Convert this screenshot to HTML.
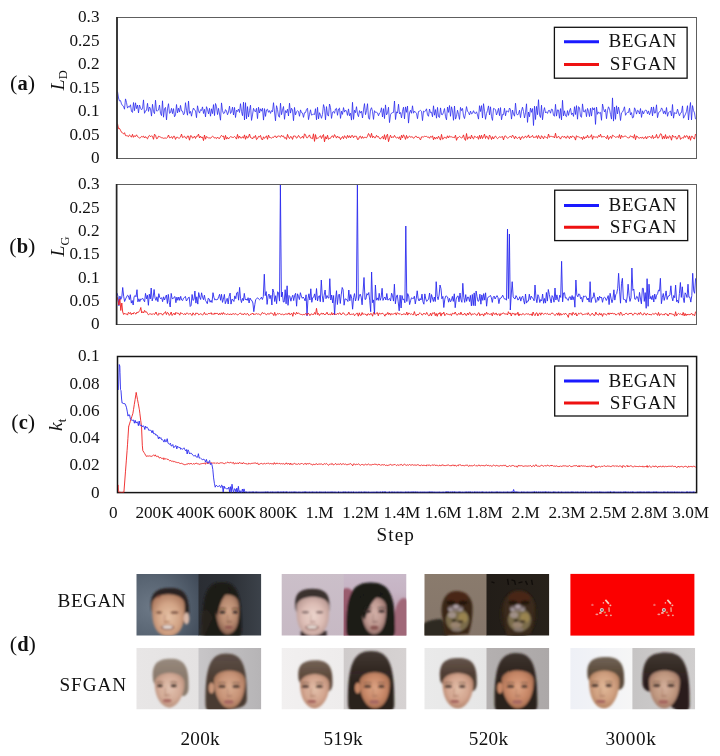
<!DOCTYPE html>
<html><head><meta charset="utf-8"><title>Figure</title>
<style>html,body{margin:0;padding:0;background:#fff;width:720px;height:756px;overflow:hidden}svg{display:block;will-change:transform}</style>
</head><body>
<svg width="720" height="756" viewBox="0 0 720 756">
<defs>
<filter id="bl1" x="-20%" y="-20%" width="140%" height="140%"><feGaussianBlur stdDeviation="1.2"/></filter>
<filter id="bl05" x="-50%" y="-50%" width="200%" height="200%"><feGaussianBlur stdDeviation="0.45"/></filter>
<filter id="bl07" x="-50%" y="-50%" width="200%" height="200%"><feGaussianBlur stdDeviation="0.85"/></filter>
<filter id="bl2" x="-20%" y="-20%" width="140%" height="140%"><feGaussianBlur stdDeviation="2"/></filter>
<clipPath id="ca"><rect x="117" y="17" width="580" height="142"/></clipPath>
<clipPath id="cb"><rect x="116" y="184" width="581" height="141"/></clipPath>
<clipPath id="cc"><rect x="118.2" y="357.2" width="577.7" height="135.6"/></clipPath>
</defs>
<style>
text{font-family:'Liberation Serif',serif;fill:#111}
.tk{font-size:17.2px}
.lg{font-size:19.2px}
.pl{font-size:22px}
.ax{font-size:19.5px}
.it{font-style:italic}
</style>
<rect width="720" height="756" fill="#fff"/>
<!-- chart a -->
<text x="99.5" y="163.1" text-anchor="end" class="tk">0</text><text x="99.5" y="139.6" text-anchor="end" class="tk">0.05</text><text x="99.5" y="116.2" text-anchor="end" class="tk">0.1</text><text x="99.5" y="92.7" text-anchor="end" class="tk">0.15</text><text x="99.5" y="69.2" text-anchor="end" class="tk">0.2</text><text x="99.5" y="45.8" text-anchor="end" class="tk">0.25</text><text x="99.5" y="22.3" text-anchor="end" class="tk">0.3</text>
<g clip-path="url(#ca)">
<polyline points="117.5,91.5 118.5,98.0 119.5,101.0 120.5,100.6 121.5,103.9 122.5,105.6 123.5,106.3 124.5,109.2 125.5,98.9 126.5,102.5 127.5,108.1 128.5,106.4 129.5,107.1 130.5,104.8 131.5,111.5 132.5,112.4 133.5,102.5 134.5,110.7 135.5,102.8 136.5,108.6 137.5,105.0 138.5,112.9 139.5,105.0 140.5,107.9 141.5,109.8 142.5,108.6 143.5,99.9 144.5,113.3 145.5,110.8 146.5,110.4 147.5,103.3 148.5,111.4 149.5,107.0 150.5,108.8 151.5,116.1 152.5,104.3 153.5,111.7 154.5,113.7 155.5,100.2 156.5,110.9 157.5,110.8 158.5,110.1 159.5,105.0 160.5,113.2 161.5,115.6 162.5,100.8 163.5,117.2 164.5,108.8 165.5,107.4 166.5,119.9 167.5,108.9 168.5,103.7 169.5,113.3 170.5,112.6 171.5,108.3 172.5,113.6 173.5,108.6 174.5,116.8 175.5,114.9 176.5,104.5 177.5,112.9 178.5,108.2 179.5,112.1 180.5,105.4 181.5,110.9 182.5,111.1 183.5,114.8 184.5,113.3 185.5,102.7 186.5,110.4 187.5,115.2 188.5,101.1 189.5,113.4 190.5,111.4 191.5,116.2 192.5,110.8 193.5,108.0 194.5,110.1 195.5,110.7 196.5,117.7 197.5,105.8 198.5,110.7 199.5,113.1 200.5,109.7 201.5,110.5 202.5,106.9 203.5,113.5 204.5,109.3 205.5,116.9 206.5,106.7 207.5,109.5 208.5,113.9 209.5,108.3 210.5,116.2 211.5,108.8 212.5,113.6 213.5,104.6 214.5,115.6 215.5,103.5 216.5,106.7 217.5,114.6 218.5,108.3 219.5,114.0 220.5,120.2 221.5,102.9 222.5,110.7 223.5,113.6 224.5,113.0 225.5,109.6 226.5,111.0 227.5,114.8 228.5,112.0 229.5,106.1 230.5,113.5 231.5,111.8 232.5,107.1 233.5,115.0 234.5,107.4 235.5,117.5 236.5,110.2 237.5,111.5 238.5,109.0 239.5,112.5 240.5,103.7 241.5,111.5 242.5,115.7 243.5,102.2 244.5,120.0 245.5,102.7 246.5,118.8 247.5,106.6 248.5,116.9 249.5,110.6 250.5,105.2 251.5,120.4 252.5,114.9 253.5,108.3 254.5,110.9 255.5,111.9 256.5,108.3 257.5,118.6 258.5,107.2 259.5,113.0 260.5,108.8 261.5,111.2 262.5,108.2 263.5,120.1 264.5,108.6 265.5,116.4 266.5,109.9 267.5,109.2 268.5,112.3 269.5,110.6 270.5,113.4 271.5,110.6 272.5,111.8 273.5,102.7 274.5,112.0 275.5,120.8 276.5,105.7 277.5,109.4 278.5,116.0 279.5,117.3 280.5,103.2 281.5,114.7 282.5,110.2 283.5,106.5 284.5,119.3 285.5,110.6 286.5,112.7 287.5,109.2 288.5,116.0 289.5,103.2 290.5,113.1 291.5,108.2 292.5,110.0 293.5,120.7 294.5,107.4 295.5,114.9 296.5,111.7 297.5,110.8 298.5,111.5 299.5,116.3 300.5,109.9 301.5,112.7 302.5,113.0 303.5,117.4 304.5,112.7 305.5,112.6 306.5,109.4 307.5,108.2 308.5,119.6 309.5,114.4 310.5,109.8 311.5,115.1 312.5,114.6 313.5,114.2 314.5,114.5 315.5,108.7 316.5,119.8 317.5,107.3 318.5,118.9 319.5,112.7 320.5,115.1 321.5,118.3 322.5,114.4 323.5,104.6 324.5,108.3 325.5,119.8 326.5,106.6 327.5,114.8 328.5,116.1 329.5,104.0 330.5,107.7 331.5,118.4 332.5,112.2 333.5,111.5 334.5,113.3 335.5,109.0 336.5,108.3 337.5,115.3 338.5,109.0 339.5,108.1 340.5,118.4 341.5,111.2 342.5,114.4 343.5,107.6 344.5,112.1 345.5,110.0 346.5,111.2 347.5,115.4 348.5,108.9 349.5,115.8 350.5,113.2 351.5,120.1 352.5,102.3 353.5,119.4 354.5,110.2 355.5,112.7 356.5,106.7 357.5,114.0 358.5,116.7 359.5,110.6 360.5,113.1 361.5,111.2 362.5,118.0 363.5,109.9 364.5,103.6 365.5,114.7 366.5,110.6 367.5,103.7 368.5,117.8 369.5,119.3 370.5,109.8 371.5,107.7 372.5,111.4 373.5,119.4 374.5,110.7 375.5,112.4 376.5,112.3 377.5,112.9 378.5,115.8 379.5,113.0 380.5,112.2 381.5,107.8 382.5,117.0 383.5,108.6 384.5,118.6 385.5,104.9 386.5,114.9 387.5,112.9 388.5,107.2 389.5,122.6 390.5,114.7 391.5,113.1 392.5,112.6 393.5,112.4 394.5,101.0 395.5,119.5 396.5,111.8 397.5,113.1 398.5,104.2 399.5,113.9 400.5,112.5 401.5,117.9 402.5,111.3 403.5,107.2 404.5,118.9 405.5,106.9 406.5,112.3 407.5,106.0 408.5,123.1 409.5,113.0 410.5,110.2 411.5,113.3 412.5,105.8 413.5,113.2 414.5,111.1 415.5,112.3 416.5,113.3 417.5,118.7 418.5,111.5 419.5,111.1 420.5,110.4 421.5,111.3 422.5,120.6 423.5,111.1 424.5,111.7 425.5,111.0 426.5,108.8 427.5,114.8 428.5,116.3 429.5,109.0 430.5,112.6 431.5,112.2 432.5,116.8 433.5,105.8 434.5,115.2 435.5,109.6 436.5,118.2 437.5,107.4 438.5,116.7 439.5,117.5 440.5,107.9 441.5,114.5 442.5,114.7 443.5,112.2 444.5,108.5 445.5,116.7 446.5,119.8 447.5,107.0 448.5,112.4 449.5,105.5 450.5,116.3 451.5,106.8 452.5,110.9 453.5,120.3 454.5,106.0 455.5,119.1 456.5,116.4 457.5,110.2 458.5,114.3 459.5,119.4 460.5,107.4 461.5,110.6 462.5,108.4 463.5,115.8 464.5,118.6 465.5,113.2 466.5,106.6 467.5,111.2 468.5,112.5 469.5,114.9 470.5,111.1 471.5,113.9 472.5,113.3 473.5,110.7 474.5,113.1 475.5,113.5 476.5,111.8 477.5,114.9 478.5,119.1 479.5,105.7 480.5,111.5 481.5,105.6 482.5,118.0 483.5,103.7 484.5,111.2 485.5,119.3 486.5,113.6 487.5,110.4 488.5,105.9 489.5,114.9 490.5,106.8 491.5,116.7 492.5,120.4 493.5,108.4 494.5,108.9 495.5,109.6 496.5,115.0 497.5,112.0 498.5,108.3 499.5,115.7 500.5,107.6 501.5,119.8 502.5,114.4 503.5,114.7 504.5,108.2 505.5,115.8 506.5,110.9 507.5,111.3 508.5,112.1 509.5,108.0 510.5,109.6 511.5,119.1 512.5,110.0 513.5,113.9 514.5,116.2 515.5,103.2 516.5,113.3 517.5,115.1 518.5,113.8 519.5,110.2 520.5,117.7 521.5,111.1 522.5,107.2 523.5,111.5 524.5,118.0 525.5,112.7 526.5,103.8 527.5,122.4 528.5,112.0 529.5,116.8 530.5,108.0 531.5,112.3 532.5,108.6 533.5,125.5 534.5,106.2 535.5,119.5 536.5,106.4 537.5,114.7 538.5,99.7 539.5,114.8 540.5,117.5 541.5,105.2 542.5,119.8 543.5,111.6 544.5,107.6 545.5,112.9 546.5,111.8 547.5,113.4 548.5,110.5 549.5,110.4 550.5,113.2 551.5,109.1 552.5,109.6 553.5,115.3 554.5,116.3 555.5,104.3 556.5,116.1 557.5,109.9 558.5,110.1 559.5,118.3 560.5,108.6 561.5,119.9 562.5,100.3 563.5,115.9 564.5,110.8 565.5,115.8 566.5,116.7 567.5,110.6 568.5,115.4 569.5,111.0 570.5,108.3 571.5,114.6 572.5,113.0 573.5,116.4 574.5,106.7 575.5,114.5 576.5,105.6 577.5,119.2 578.5,106.7 579.5,107.6 580.5,116.4 581.5,117.3 582.5,103.9 583.5,111.6 584.5,112.0 585.5,109.6 586.5,116.7 587.5,108.4 588.5,111.5 589.5,116.6 590.5,108.2 591.5,116.1 592.5,107.6 593.5,109.8 594.5,107.8 595.5,124.4 596.5,107.1 597.5,114.3 598.5,111.9 599.5,113.3 600.5,112.4 601.5,120.3 602.5,104.0 603.5,108.6 604.5,112.0 605.5,109.4 606.5,118.7 607.5,110.5 608.5,106.8 609.5,109.1 610.5,114.3 611.5,119.1 612.5,97.9 613.5,121.1 614.5,107.0 615.5,119.3 616.5,105.8 617.5,113.9 618.5,107.1 619.5,112.0 620.5,120.5 621.5,112.8 622.5,112.1 623.5,109.9 624.5,106.8 625.5,115.3 626.5,113.4 627.5,112.3 628.5,112.4 629.5,108.2 630.5,114.9 631.5,112.6 632.5,118.0 633.5,117.3 634.5,107.8 635.5,109.8 636.5,114.1 637.5,110.3 638.5,110.9 639.5,114.0 640.5,108.5 641.5,117.4 642.5,110.8 643.5,113.9 644.5,111.3 645.5,110.0 646.5,110.4 647.5,113.8 648.5,110.9 649.5,114.8 650.5,112.1 651.5,107.0 652.5,115.9 653.5,106.9 654.5,113.1 655.5,112.8 656.5,104.8 657.5,117.7 658.5,113.0 659.5,111.6 660.5,111.2 661.5,107.9 662.5,109.4 663.5,113.7 664.5,110.9 665.5,114.2 666.5,107.5 667.5,116.3 668.5,112.7 669.5,111.7 670.5,111.1 671.5,115.9 672.5,104.5 673.5,118.2 674.5,112.6 675.5,113.2 676.5,113.5 677.5,109.1 678.5,113.0 679.5,115.8 680.5,112.9 681.5,112.5 682.5,105.9 683.5,118.2 684.5,116.2 685.5,114.1 686.5,111.3 687.5,105.7 688.5,120.0 689.5,109.9 690.5,102.5 691.5,119.9 692.5,105.6 693.5,110.6 694.5,112.9 695.5,119.2" fill="none" stroke="#2a2aee" stroke-width="0.8" stroke-linejoin="round"/>
<polyline points="117.5,123.7 118.5,128.6 119.5,128.4 120.5,130.3 121.5,132.1 122.5,133.1 123.5,133.9 124.5,132.7 125.5,135.6 126.5,135.7 127.5,135.9 128.5,136.6 129.5,134.9 130.5,135.8 131.5,137.2 132.5,134.3 133.5,137.3 134.5,135.8 135.5,136.5 136.5,134.8 137.5,136.6 138.5,137.3 139.5,138.0 140.5,137.7 141.5,136.4 142.5,136.8 143.5,136.1 144.5,138.0 145.5,136.6 146.5,138.0 147.5,138.9 148.5,136.3 149.5,135.4 150.5,136.8 151.5,135.8 152.5,136.4 153.5,139.3 154.5,134.2 155.5,135.2 156.5,138.7 157.5,138.4 158.5,136.2 159.5,136.6 160.5,137.1 161.5,137.7 162.5,137.8 163.5,138.3 164.5,138.1 165.5,138.0 166.5,138.3 167.5,137.3 168.5,135.0 169.5,137.8 170.5,137.6 171.5,136.6 172.5,138.5 173.5,136.3 174.5,136.3 175.5,139.4 176.5,137.3 177.5,137.1 178.5,138.2 179.5,138.0 180.5,137.1 181.5,134.1 182.5,137.6 183.5,137.0 184.5,136.2 185.5,137.9 186.5,138.5 187.5,136.0 188.5,136.1 189.5,140.2 190.5,135.7 191.5,135.9 192.5,138.1 193.5,137.6 194.5,136.1 195.5,138.5 196.5,136.2 197.5,136.3 198.5,134.1 199.5,138.0 200.5,136.1 201.5,137.9 202.5,136.9 203.5,140.6 204.5,135.0 205.5,139.2 206.5,136.5 207.5,137.1 208.5,138.1 209.5,137.9 210.5,138.3 211.5,137.0 212.5,136.3 213.5,136.8 214.5,138.1 215.5,137.7 216.5,138.6 217.5,137.0 218.5,138.3 219.5,138.5 220.5,136.7 221.5,135.3 222.5,136.5 223.5,136.0 224.5,139.8 225.5,135.4 226.5,139.1 227.5,137.3 228.5,139.0 229.5,137.6 230.5,136.6 231.5,137.0 232.5,137.4 233.5,137.4 234.5,136.5 235.5,137.4 236.5,139.1 237.5,134.4 238.5,138.3 239.5,136.0 240.5,137.9 241.5,138.1 242.5,136.7 243.5,138.2 244.5,134.9 245.5,139.3 246.5,135.9 247.5,138.2 248.5,137.1 249.5,134.0 250.5,137.5 251.5,137.8 252.5,139.0 253.5,136.8 254.5,137.4 255.5,135.4 256.5,139.6 257.5,138.7 258.5,136.4 259.5,136.9 260.5,135.4 261.5,139.0 262.5,140.0 263.5,136.8 264.5,138.4 265.5,137.2 266.5,135.8 267.5,139.3 268.5,135.1 269.5,137.5 270.5,137.6 271.5,138.1 272.5,137.3 273.5,137.5 274.5,136.1 275.5,136.0 276.5,137.9 277.5,136.3 278.5,136.0 279.5,136.3 280.5,137.2 281.5,135.2 282.5,136.5 283.5,135.9 284.5,138.2 285.5,137.6 286.5,139.4 287.5,134.4 288.5,137.1 289.5,138.6 290.5,136.5 291.5,136.9 292.5,139.4 293.5,136.0 294.5,136.0 295.5,136.2 296.5,138.2 297.5,137.4 298.5,135.4 299.5,136.7 300.5,138.3 301.5,137.6 302.5,136.2 303.5,138.3 304.5,133.8 305.5,134.8 306.5,137.7 307.5,137.8 308.5,136.3 309.5,134.9 310.5,137.9 311.5,138.2 312.5,138.7 313.5,133.8 314.5,141.4 315.5,134.6 316.5,138.9 317.5,138.2 318.5,137.8 319.5,136.9 320.5,135.7 321.5,138.5 322.5,136.0 323.5,134.5 324.5,141.8 325.5,136.7 326.5,139.0 327.5,135.2 328.5,139.4 329.5,138.4 330.5,138.3 331.5,136.4 332.5,135.8 333.5,137.6 334.5,134.6 335.5,136.2 336.5,138.1 337.5,136.0 338.5,137.5 339.5,137.1 340.5,139.6 341.5,137.8 342.5,136.5 343.5,138.7 344.5,135.7 345.5,137.2 346.5,138.5 347.5,135.3 348.5,137.5 349.5,135.7 350.5,138.0 351.5,135.7 352.5,135.5 353.5,137.8 354.5,136.0 355.5,136.3 356.5,136.3 357.5,139.5 358.5,139.3 359.5,136.6 360.5,136.1 361.5,138.4 362.5,136.5 363.5,138.3 364.5,137.2 365.5,137.4 366.5,137.8 367.5,136.2 368.5,133.5 369.5,135.3 370.5,137.5 371.5,133.3 372.5,137.7 373.5,136.1 374.5,137.8 375.5,137.7 376.5,135.3 377.5,136.9 378.5,136.5 379.5,138.5 380.5,138.9 381.5,137.4 382.5,136.4 383.5,139.1 384.5,134.7 385.5,139.7 386.5,135.7 387.5,134.2 388.5,141.7 389.5,137.8 390.5,135.2 391.5,137.9 392.5,136.9 393.5,137.4 394.5,135.4 395.5,137.1 396.5,138.1 397.5,137.2 398.5,138.5 399.5,136.7 400.5,140.0 401.5,135.2 402.5,137.9 403.5,134.8 404.5,136.6 405.5,139.4 406.5,135.4 407.5,138.3 408.5,136.9 409.5,136.0 410.5,137.3 411.5,136.8 412.5,136.9 413.5,138.3 414.5,137.6 415.5,136.2 416.5,136.4 417.5,138.0 418.5,136.9 419.5,138.5 420.5,139.9 421.5,136.9 422.5,136.8 423.5,137.0 424.5,136.3 425.5,136.5 426.5,136.4 427.5,137.2 428.5,136.9 429.5,138.3 430.5,136.4 431.5,137.2 432.5,135.8 433.5,139.8 434.5,137.0 435.5,139.1 436.5,137.3 437.5,138.6 438.5,136.2 439.5,138.2 440.5,140.1 441.5,134.4 442.5,139.2 443.5,138.7 444.5,136.9 445.5,137.9 446.5,138.4 447.5,135.8 448.5,138.0 449.5,135.9 450.5,136.8 451.5,136.8 452.5,137.3 453.5,137.4 454.5,137.7 455.5,135.2 456.5,140.3 457.5,137.6 458.5,137.5 459.5,136.4 460.5,137.3 461.5,137.9 462.5,137.4 463.5,134.9 464.5,138.9 465.5,140.4 466.5,133.5 467.5,139.3 468.5,137.2 469.5,136.9 470.5,138.9 471.5,135.1 472.5,138.0 473.5,138.9 474.5,136.2 475.5,136.8 476.5,137.5 477.5,136.6 478.5,139.3 479.5,135.3 480.5,138.7 481.5,135.2 482.5,138.6 483.5,136.7 484.5,134.1 485.5,138.5 486.5,135.9 487.5,137.2 488.5,139.3 489.5,135.1 490.5,136.4 491.5,139.5 492.5,136.6 493.5,139.0 494.5,136.8 495.5,136.0 496.5,137.6 497.5,138.7 498.5,137.8 499.5,136.7 500.5,137.3 501.5,137.0 502.5,136.5 503.5,139.9 504.5,136.3 505.5,135.8 506.5,137.2 507.5,138.3 508.5,137.6 509.5,136.7 510.5,136.4 511.5,137.6 512.5,135.1 513.5,136.4 514.5,138.8 515.5,136.2 516.5,137.9 517.5,138.5 518.5,137.4 519.5,136.9 520.5,139.8 521.5,137.0 522.5,136.4 523.5,138.3 524.5,137.3 525.5,135.9 526.5,137.7 527.5,137.0 528.5,134.9 529.5,138.0 530.5,136.9 531.5,136.8 532.5,135.4 533.5,137.6 534.5,137.3 535.5,137.3 536.5,135.7 537.5,138.5 538.5,135.4 539.5,137.5 540.5,138.9 541.5,135.7 542.5,136.9 543.5,138.8 544.5,136.2 545.5,137.0 546.5,137.6 547.5,138.4 548.5,134.0 549.5,137.3 550.5,136.4 551.5,136.4 552.5,136.7 553.5,136.6 554.5,138.0 555.5,133.2 556.5,137.8 557.5,137.6 558.5,136.1 559.5,137.7 560.5,139.1 561.5,136.8 562.5,136.3 563.5,137.4 564.5,136.1 565.5,138.0 566.5,138.1 567.5,135.8 568.5,137.3 569.5,138.7 570.5,136.0 571.5,137.7 572.5,135.9 573.5,136.7 574.5,137.0 575.5,140.1 576.5,135.7 577.5,136.8 578.5,136.8 579.5,137.3 580.5,138.1 581.5,137.1 582.5,139.6 583.5,136.5 584.5,138.8 585.5,136.8 586.5,137.8 587.5,135.2 588.5,137.7 589.5,137.2 590.5,136.9 591.5,134.7 592.5,139.3 593.5,136.3 594.5,136.9 595.5,137.1 596.5,137.0 597.5,137.8 598.5,135.5 599.5,136.7 600.5,134.2 601.5,137.2 602.5,136.7 603.5,136.7 604.5,136.5 605.5,137.5 606.5,138.6 607.5,135.4 608.5,139.5 609.5,137.5 610.5,136.3 611.5,138.4 612.5,135.1 613.5,135.8 614.5,136.5 615.5,137.3 616.5,137.0 617.5,136.7 618.5,137.6 619.5,134.6 620.5,138.8 621.5,135.3 622.5,137.1 623.5,137.0 624.5,136.0 625.5,136.1 626.5,136.7 627.5,137.7 628.5,137.9 629.5,137.6 630.5,135.7 631.5,136.7 632.5,136.5 633.5,138.2 634.5,134.5 635.5,139.7 636.5,136.0 637.5,136.5 638.5,138.0 639.5,138.3 640.5,137.1 641.5,138.3 642.5,136.9 643.5,138.6 644.5,138.1 645.5,136.5 646.5,139.0 647.5,136.7 648.5,137.2 649.5,136.1 650.5,137.3 651.5,138.3 652.5,135.3 653.5,138.6 654.5,137.3 655.5,137.4 656.5,134.4 657.5,138.1 658.5,138.0 659.5,136.0 660.5,133.7 661.5,134.3 662.5,139.1 663.5,136.1 664.5,138.6 665.5,134.6 666.5,138.9 667.5,136.6 668.5,138.3 669.5,135.7 670.5,136.9 671.5,140.2 672.5,135.1 673.5,136.8 674.5,137.2 675.5,136.1 676.5,139.1 677.5,138.7 678.5,135.5 679.5,135.5 680.5,139.4 681.5,138.0 682.5,137.7 683.5,138.2 684.5,135.6 685.5,137.4 686.5,135.6 687.5,136.2 688.5,139.1 689.5,135.9 690.5,140.3 691.5,136.2 692.5,136.4 693.5,138.5 694.5,139.0 695.5,134.0" fill="none" stroke="#ee2020" stroke-width="0.9" stroke-linejoin="round"/>
</g>
<rect x="117" y="17.5" width="579.5" height="141.0" fill="none" stroke="#5e5e5e" stroke-width="1"/><path d="M117,17.0V159.0" fill="none" stroke="#262626" stroke-width="1.7"/>
<rect x="554.4" y="27.3" width="132.70000000000005" height="50.900000000000006" fill="#fff" stroke="#111" stroke-width="1.3"/><line x1="564" y1="41.8" x2="599" y2="41.8" stroke="#1a1aff" stroke-width="3"/><line x1="564" y1="64.4" x2="599" y2="64.4" stroke="#ee1111" stroke-width="3"/><text x="608.4" y="47.2" class="lg" letter-spacing="0.45">BEGAN</text><text x="609.8" y="70.0" class="lg" letter-spacing="0.9">SFGAN</text>
<text x="10.1" y="89.6" class="pl">(<tspan font-weight="bold" font-size="20.5px">a</tspan>)</text>
<text transform="translate(63.6,90.2) rotate(-90)" class="ax"><tspan class="it">L</tspan><tspan font-size="12.5" dy="3.3">D</tspan></text>
<!-- chart b -->
<text x="99.5" y="329.3" text-anchor="end" class="tk">0</text><text x="99.5" y="306.0" text-anchor="end" class="tk">0.05</text><text x="99.5" y="282.6" text-anchor="end" class="tk">0.1</text><text x="99.5" y="259.3" text-anchor="end" class="tk">0.15</text><text x="99.5" y="236.0" text-anchor="end" class="tk">0.2</text><text x="99.5" y="212.6" text-anchor="end" class="tk">0.25</text><text x="99.5" y="189.3" text-anchor="end" class="tk">0.3</text>
<g clip-path="url(#cb)">
<polyline points="117.0,293.0 118.0,296.4 118.9,305.7 119.9,296.1 120.8,299.4 121.8,297.1 122.7,287.5 123.7,296.5 124.6,301.5 125.6,298.9 126.5,297.1 127.5,295.3 128.4,295.9 129.4,299.6 130.3,294.7 131.3,303.1 132.2,300.5 133.2,305.0 134.1,296.9 135.1,295.5 136.0,296.8 137.0,289.7 137.9,301.8 138.9,298.8 139.8,301.6 140.8,298.9 141.7,299.3 142.7,298.3 143.6,300.1 144.6,301.8 145.5,293.4 146.5,298.8 147.4,295.2 148.4,305.3 149.3,294.2 150.3,298.9 151.2,288.0 152.2,300.9 153.1,297.7 154.1,289.5 155.0,298.0 156.0,300.4 156.9,296.8 157.9,301.7 158.8,293.7 159.8,297.5 160.7,298.8 161.7,297.6 162.6,301.7 163.6,296.8 164.5,300.0 165.5,297.2 166.4,295.0 167.4,303.5 168.3,294.4 169.3,302.3 170.2,307.0 171.2,293.4 172.1,298.5 173.1,298.7 174.0,297.2 175.0,296.6 175.9,302.7 176.9,297.1 177.8,300.3 178.8,297.0 179.7,300.4 180.7,296.3 181.6,299.9 182.6,300.6 183.5,298.2 184.5,297.5 185.4,296.4 186.4,301.0 187.3,299.7 188.3,297.7 189.2,297.1 190.2,306.5 191.1,305.4 192.1,294.5 193.0,300.4 194.0,299.6 194.9,291.0 195.9,303.1 196.8,296.8 197.8,304.1 198.7,292.6 199.7,297.2 200.6,299.5 201.6,292.8 202.5,297.2 203.5,299.7 204.4,295.2 205.4,300.4 206.3,301.7 207.3,303.7 208.2,298.3 209.2,298.9 210.1,302.2 211.1,300.4 212.0,302.5 213.0,292.7 213.9,297.3 214.9,300.1 215.8,299.3 216.8,299.8 217.7,299.4 218.7,296.7 219.6,294.3 220.6,300.3 221.5,294.3 222.5,302.4 223.4,299.2 224.4,294.4 225.3,303.7 226.3,300.8 227.2,298.3 228.2,304.0 229.1,296.5 230.1,293.1 231.0,304.1 232.0,299.1 232.9,299.9 233.9,301.5 234.8,295.9 235.8,298.7 236.7,292.9 237.7,292.1 238.6,300.2 239.6,287.4 240.5,298.5 241.5,302.6 242.4,298.4 243.4,300.7 244.3,293.4 245.3,299.9 246.2,299.0 247.2,300.4 248.1,297.7 249.1,303.0 250.0,298.0 251.0,300.1 251.9,300.5 252.9,303.0 253.8,311.7 254.8,304.7 255.7,299.5 256.7,298.6 257.6,297.8 258.6,299.0 259.5,299.7 260.5,298.8 261.4,297.2 262.4,299.5 263.3,296.6 264.3,274.2 265.2,295.6 266.2,291.6 267.1,304.4 268.1,295.9 269.0,294.0 270.0,298.7 270.9,295.3 271.9,305.0 272.8,289.0 273.8,292.3 274.7,301.5 275.7,295.7 276.6,303.7 277.6,291.8 278.5,292.6 279.5,301.1 280.4,184.4 281.4,296.9 282.3,292.0 283.3,302.0 284.2,301.9 285.2,289.7 286.1,303.8 287.1,285.8 288.0,305.3 289.0,295.5 289.9,296.5 290.9,301.2 291.8,297.6 292.8,295.2 293.7,300.6 294.7,295.2 295.6,293.3 296.6,306.2 297.5,293.8 298.5,296.5 299.4,299.6 300.4,292.7 301.3,296.1 302.3,298.3 303.2,297.0 304.2,298.7 305.1,300.9 306.1,294.8 307.0,315.8 308.0,298.8 308.9,293.8 309.9,300.0 310.8,288.8 311.8,302.3 312.7,297.6 313.7,297.2 314.6,293.9 315.6,300.1 316.5,288.5 317.5,301.0 318.4,296.5 319.4,295.7 320.3,301.7 321.3,280.0 322.2,295.1 323.2,302.1 324.1,295.3 325.1,290.0 326.0,298.7 327.0,295.5 327.9,297.7 328.9,298.1 329.8,278.7 330.8,300.0 331.7,295.0 332.7,303.0 333.6,295.5 334.6,315.0 335.5,299.9 336.5,290.7 337.4,304.5 338.4,295.2 339.3,294.1 340.3,303.5 341.2,294.9 342.2,287.5 343.1,289.7 344.1,305.2 345.0,298.9 346.0,299.1 346.9,299.7 347.9,301.5 348.8,290.0 349.8,300.8 350.7,294.5 351.7,298.1 352.6,309.2 353.6,297.6 354.5,293.6 355.5,301.0 356.4,297.0 357.4,184.4 358.3,300.5 359.3,296.3 360.2,294.1 361.2,297.1 362.1,304.8 363.1,291.1 364.0,277.5 365.0,299.5 365.9,299.1 366.9,293.6 367.8,295.1 368.8,292.5 369.7,300.2 370.7,311.7 371.6,272.0 372.6,302.7 373.5,299.9 374.5,314.2 375.4,285.0 376.4,300.2 377.3,297.9 378.3,300.4 379.2,293.3 380.2,300.3 381.1,297.6 382.1,288.3 383.0,300.4 384.0,298.0 384.9,297.0 385.9,300.0 386.8,293.5 387.8,300.1 388.7,299.6 389.7,298.4 390.6,301.0 391.6,293.2 392.5,295.6 393.5,301.1 394.4,284.2 395.4,303.8 396.3,297.0 397.3,294.9 398.2,301.9 399.2,310.8 400.1,295.2 401.1,308.0 402.0,295.5 403.0,299.9 403.9,298.9 404.9,302.8 405.8,226.0 406.8,301.5 407.7,293.6 408.7,295.9 409.6,304.6 410.6,300.6 411.5,297.8 412.5,298.4 413.4,298.6 414.4,296.2 415.3,303.9 416.3,298.2 417.2,290.8 418.2,298.9 419.1,301.0 420.1,298.5 421.0,300.0 422.0,294.1 422.9,301.7 423.9,304.2 424.8,293.9 425.8,299.0 426.7,301.4 427.7,300.1 428.6,299.1 429.6,293.0 430.5,302.5 431.5,294.5 432.4,298.0 433.4,301.5 434.3,297.0 435.3,301.5 436.2,281.7 437.2,296.4 438.1,299.7 439.1,295.1 440.0,285.0 441.0,288.8 441.9,298.8 442.9,296.4 443.8,307.5 444.8,299.2 445.7,296.2 446.7,296.2 447.6,297.0 448.6,302.2 449.5,298.4 450.5,301.8 451.4,300.4 452.4,296.4 453.3,301.4 454.3,293.8 455.2,307.7 456.2,299.1 457.1,296.6 458.1,295.9 459.0,301.8 460.0,293.0 460.9,299.4 461.9,302.3 462.8,283.3 463.8,297.5 464.7,302.4 465.7,294.6 466.6,301.3 467.6,297.1 468.5,297.2 469.5,301.5 470.4,295.4 471.4,305.9 472.3,294.5 473.3,305.6 474.2,292.9 475.2,305.8 476.1,291.0 477.1,296.8 478.0,301.3 479.0,300.7 479.9,294.2 480.9,304.2 481.8,294.9 482.8,300.4 483.7,293.6 484.7,300.1 485.6,292.8 486.6,306.2 487.5,298.2 488.5,296.8 489.4,296.5 490.4,295.4 491.3,297.4 492.3,302.4 493.2,297.1 494.2,296.1 495.1,299.0 496.1,297.0 497.0,295.6 498.0,297.6 498.9,303.6 499.9,298.2 500.8,298.3 501.8,297.0 502.7,295.2 503.7,297.7 504.6,299.1 505.6,298.9 506.5,300.2 507.5,229.0 508.4,298.6 509.4,234.0 510.3,310.0 511.3,294.0 512.2,281.7 513.2,296.8 514.1,298.3 515.1,298.9 516.0,295.6 517.0,297.3 517.9,300.1 518.9,299.2 519.8,296.7 520.8,301.1 521.7,297.4 522.7,296.1 523.6,300.3 524.6,304.1 525.5,294.0 526.5,303.1 527.4,301.0 528.4,301.1 529.3,294.2 530.3,299.7 531.2,296.1 532.2,297.8 533.1,298.4 534.1,300.8 535.0,285.0 536.0,298.1 536.9,302.7 537.9,294.7 538.8,296.7 539.8,302.5 540.7,299.6 541.7,300.8 542.6,294.0 543.6,303.3 544.5,298.5 545.5,303.1 546.4,292.5 547.4,301.1 548.3,289.5 549.3,294.4 550.2,298.9 551.2,302.9 552.1,295.6 553.1,297.2 554.0,302.2 555.0,288.0 555.9,300.0 556.9,294.9 557.8,299.6 558.8,301.7 559.7,295.2 560.7,297.4 561.6,261.3 562.6,301.9 563.5,293.0 564.5,292.7 565.4,298.1 566.4,297.7 567.3,299.6 568.3,300.5 569.2,297.2 570.2,296.7 571.1,300.0 572.1,295.5 573.0,299.8 574.0,296.7 574.9,307.2 575.9,280.0 576.8,294.9 577.8,296.8 578.7,293.9 579.7,294.4 580.6,298.8 581.6,297.4 582.5,302.1 583.5,296.0 584.4,296.8 585.4,295.8 586.3,297.0 587.3,300.0 588.2,298.0 589.2,302.1 590.1,281.7 591.1,302.5 592.0,297.7 593.0,298.1 593.9,292.7 594.9,297.6 595.8,302.5 596.8,301.5 597.7,297.0 598.7,300.4 599.6,296.2 600.6,298.0 601.5,297.1 602.5,302.3 603.4,298.0 604.4,297.3 605.3,297.8 606.3,300.5 607.2,298.6 608.2,295.6 609.1,304.6 610.1,293.3 611.0,298.1 612.0,302.7 612.9,299.3 613.9,289.8 614.8,300.1 615.8,294.6 616.7,293.6 617.7,288.3 618.6,273.3 619.6,291.2 620.5,303.2 621.5,283.4 622.4,278.3 623.4,299.3 624.3,299.5 625.3,299.8 626.2,302.7 627.2,296.9 628.1,284.2 629.1,295.4 630.0,301.4 631.0,297.8 631.9,268.0 632.9,290.4 633.8,289.0 634.8,299.1 635.7,299.3 636.7,296.3 637.6,297.0 638.6,301.6 639.5,292.4 640.5,299.1 641.4,303.8 642.4,288.3 643.3,288.3 644.3,301.4 645.2,292.6 646.2,308.3 647.1,278.7 648.1,306.3 649.0,284.2 650.0,298.8 650.9,296.4 651.9,299.7 652.8,295.3 653.8,302.0 654.7,294.0 655.7,299.2 656.6,295.2 657.6,293.7 658.5,290.1 659.5,290.9 660.4,278.3 661.4,303.7 662.3,297.7 663.3,293.5 664.2,300.4 665.2,296.2 666.1,290.9 667.1,299.5 668.0,296.2 669.0,296.1 669.9,294.9 670.9,285.8 671.8,296.8 672.8,300.9 673.7,295.5 674.7,297.7 675.6,285.1 676.6,301.7 677.5,300.2 678.5,303.1 679.4,293.5 680.4,282.5 681.3,297.4 682.3,286.8 683.2,297.7 684.2,302.6 685.1,292.8 686.1,294.5 687.0,297.5 688.0,284.2 688.9,297.2 689.9,297.2 690.8,302.1 691.8,295.5 692.7,273.3 693.7,290.9 694.6,293.3 695.6,278.3" fill="none" stroke="#2a2aee" stroke-width="0.9" stroke-linejoin="round"/>
<polyline points="117.0,297.0 118.0,300.5 118.9,305.0 119.9,299.0 120.8,310.5 121.8,303.0 122.7,312.0 123.7,314.5 124.6,313.1 125.6,314.1 126.5,313.9 127.5,315.1 128.4,312.4 129.4,313.6 130.3,312.4 131.3,314.7 132.2,313.0 133.2,314.1 134.1,312.4 135.1,313.5 136.0,314.1 137.0,312.0 137.9,312.7 138.9,311.8 139.8,310.6 140.8,307.5 141.7,313.0 142.7,311.7 143.6,313.0 144.6,310.4 145.5,312.1 146.5,311.8 147.4,313.3 148.4,314.8 149.3,314.0 150.3,313.8 151.2,314.1 152.2,314.6 153.1,313.5 154.1,314.5 155.0,314.0 156.0,312.0 156.9,314.4 157.9,315.4 158.8,313.2 159.8,314.0 160.7,313.5 161.7,313.8 162.6,315.2 163.6,313.4 164.5,313.2 165.5,311.6 166.4,314.6 167.4,312.4 168.3,313.1 169.3,315.4 170.2,314.4 171.2,312.0 172.1,315.5 173.1,314.1 174.0,313.1 175.0,315.0 175.9,312.3 176.9,313.5 177.8,313.1 178.8,313.5 179.7,315.2 180.7,312.5 181.6,313.5 182.6,313.6 183.5,314.5 184.5,313.6 185.4,314.9 186.4,313.1 187.3,313.1 188.3,314.0 189.2,314.2 190.2,313.2 191.1,314.6 192.1,315.5 193.0,312.8 194.0,314.3 194.9,315.2 195.9,312.9 196.8,313.5 197.8,313.3 198.7,314.8 199.7,314.3 200.6,313.7 201.6,314.1 202.5,315.1 203.5,314.3 204.4,312.4 205.4,314.5 206.3,314.1 207.3,314.6 208.2,313.5 209.2,313.5 210.1,313.8 211.1,312.6 212.0,314.6 213.0,313.5 213.9,314.6 214.9,312.9 215.8,314.0 216.8,313.3 217.7,313.4 218.7,315.0 219.6,313.3 220.6,314.6 221.5,312.8 222.5,314.5 223.4,312.5 224.4,314.2 225.3,313.7 226.3,314.7 227.2,314.0 228.2,313.8 229.1,314.8 230.1,313.9 231.0,314.4 232.0,314.5 232.9,313.7 233.9,313.8 234.8,314.4 235.8,313.5 236.7,314.5 237.7,314.9 238.6,314.4 239.6,313.4 240.5,313.0 241.5,314.4 242.4,313.9 243.4,315.0 244.3,313.3 245.3,314.0 246.2,314.7 247.2,313.3 248.1,314.0 249.1,315.6 250.0,314.7 251.0,314.0 251.9,314.0 252.9,313.0 253.8,314.9 254.8,313.9 255.7,314.2 256.7,313.5 257.6,314.2 258.6,313.9 259.5,314.4 260.5,315.2 261.4,313.8 262.4,312.4 263.3,313.7 264.3,312.9 265.2,313.9 266.2,314.8 267.1,314.2 268.1,313.3 269.0,314.5 270.0,313.2 270.9,313.0 271.9,313.3 272.8,313.8 273.8,315.6 274.7,312.3 275.7,315.6 276.6,314.8 277.6,313.4 278.5,314.0 279.5,313.5 280.4,314.2 281.4,314.6 282.3,313.8 283.3,314.9 284.2,314.7 285.2,313.9 286.1,314.2 287.1,313.8 288.0,314.4 289.0,312.9 289.9,314.8 290.9,314.1 291.8,313.2 292.8,316.3 293.7,312.4 294.7,313.6 295.6,314.6 296.6,312.2 297.5,314.0 298.5,312.9 299.4,313.7 300.4,314.3 301.3,314.4 302.3,314.9 303.2,314.4 304.2,314.8 305.1,314.1 306.1,313.4 307.0,315.2 308.0,313.2 308.9,313.7 309.9,315.6 310.8,314.2 311.8,313.9 312.7,314.6 313.7,314.5 314.6,312.5 315.6,314.4 316.5,308.3 317.5,314.6 318.4,313.4 319.4,315.5 320.3,314.0 321.3,313.1 322.2,314.3 323.2,313.0 324.1,314.5 325.1,314.5 326.0,314.1 327.0,312.2 327.9,314.4 328.9,314.6 329.8,314.1 330.8,315.0 331.7,312.5 332.7,315.0 333.6,313.3 334.6,314.4 335.5,314.3 336.5,314.5 337.4,313.3 338.4,314.4 339.3,312.9 340.3,313.2 341.2,315.0 342.2,313.8 343.1,312.6 344.1,313.9 345.0,314.4 346.0,315.4 346.9,314.4 347.9,314.4 348.8,312.1 349.8,314.6 350.7,314.5 351.7,314.2 352.6,314.3 353.6,313.7 354.5,315.7 355.5,314.7 356.4,313.4 357.4,313.2 358.3,316.2 359.3,312.8 360.2,315.3 361.2,315.3 362.1,312.5 363.1,314.6 364.0,313.6 365.0,314.6 365.9,314.1 366.9,315.7 367.8,313.9 368.8,313.8 369.7,315.1 370.7,313.4 371.6,313.8 372.6,316.2 373.5,312.5 374.5,313.9 375.4,314.3 376.4,313.1 377.3,312.5 378.3,315.8 379.2,313.0 380.2,313.8 381.1,313.9 382.1,313.3 383.0,313.4 384.0,314.6 384.9,316.2 385.9,313.9 386.8,314.5 387.8,312.4 388.7,314.6 389.7,313.0 390.6,315.2 391.6,313.6 392.5,314.2 393.5,314.0 394.4,313.6 395.4,312.9 396.3,315.1 397.3,312.6 398.2,313.5 399.2,314.2 400.1,313.5 401.1,314.5 402.0,314.9 403.0,313.9 403.9,314.1 404.9,314.0 405.8,314.8 406.8,312.1 407.7,315.1 408.7,313.1 409.6,313.3 410.6,314.5 411.5,313.7 412.5,314.7 413.4,314.8 414.4,311.6 415.3,314.8 416.3,315.9 417.2,314.1 418.2,315.1 419.1,313.6 420.1,312.7 421.0,313.6 422.0,315.1 422.9,314.7 423.9,313.1 424.8,314.1 425.8,314.4 426.7,312.4 427.7,314.4 428.6,315.7 429.6,315.5 430.5,313.2 431.5,315.8 432.4,312.9 433.4,313.5 434.3,312.3 435.3,315.7 436.2,313.4 437.2,316.3 438.1,313.5 439.1,314.1 440.0,312.4 441.0,316.1 441.9,313.2 442.9,314.1 443.8,312.1 444.8,315.7 445.7,314.6 446.7,313.2 447.6,314.4 448.6,314.4 449.5,314.8 450.5,313.8 451.4,315.6 452.4,313.2 453.3,313.6 454.3,313.9 455.2,312.0 456.2,314.3 457.1,315.3 458.1,314.0 459.0,313.3 460.0,314.7 460.9,312.1 461.9,314.6 462.8,314.7 463.8,314.5 464.7,313.1 465.7,315.2 466.6,315.4 467.6,313.0 468.5,314.9 469.5,312.4 470.4,312.9 471.4,315.3 472.3,313.9 473.3,314.3 474.2,313.5 475.2,314.0 476.1,314.9 477.1,315.3 478.0,313.3 479.0,312.7 479.9,315.8 480.9,314.2 481.8,314.5 482.8,314.0 483.7,316.1 484.7,313.3 485.6,314.5 486.6,312.2 487.5,314.2 488.5,313.7 489.4,314.3 490.4,314.4 491.3,313.3 492.3,315.9 493.2,312.5 494.2,314.1 495.1,314.5 496.1,312.9 497.0,315.1 498.0,314.5 498.9,313.6 499.9,315.9 500.8,313.5 501.8,314.3 502.7,313.1 503.7,312.9 504.6,314.1 505.6,314.0 506.5,313.8 507.5,315.0 508.4,311.7 509.4,313.9 510.3,312.9 511.3,316.0 512.2,313.1 513.2,313.8 514.1,313.3 515.1,315.3 516.0,313.4 517.0,314.5 517.9,312.2 518.9,315.9 519.8,314.0 520.8,314.5 521.7,315.0 522.7,313.5 523.6,314.0 524.6,314.8 525.5,314.2 526.5,313.7 527.4,314.2 528.4,313.6 529.3,314.9 530.3,314.7 531.2,313.8 532.2,315.8 533.1,312.0 534.1,314.5 535.0,315.7 536.0,313.1 536.9,312.8 537.9,316.0 538.8,314.1 539.8,312.8 540.7,315.2 541.7,312.9 542.6,313.3 543.6,314.5 544.5,313.7 545.5,313.3 546.4,314.2 547.4,313.3 548.3,314.5 549.3,314.1 550.2,314.8 551.2,313.4 552.1,313.1 553.1,313.4 554.0,314.4 555.0,315.6 555.9,314.3 556.9,313.2 557.8,315.2 558.8,312.7 559.7,315.5 560.7,313.4 561.6,315.0 562.6,314.4 563.5,313.7 564.5,314.5 565.4,313.0 566.4,314.4 567.3,315.1 568.3,317.4 569.2,313.3 570.2,314.0 571.1,313.2 572.1,315.4 573.0,312.3 574.0,314.0 574.9,314.7 575.9,312.9 576.8,316.0 577.8,314.6 578.7,313.2 579.7,313.8 580.6,313.1 581.6,313.3 582.5,315.0 583.5,314.5 584.4,314.2 585.4,314.2 586.3,313.5 587.3,314.7 588.2,312.7 589.2,314.7 590.1,315.5 591.1,314.8 592.0,313.2 593.0,314.0 593.9,315.5 594.9,315.3 595.8,312.1 596.8,314.3 597.7,314.5 598.7,315.2 599.6,312.9 600.6,315.0 601.5,313.6 602.5,316.4 603.4,313.7 604.4,313.9 605.3,313.9 606.3,315.2 607.2,314.4 608.2,312.9 609.1,314.7 610.1,312.9 611.0,313.9 612.0,313.2 612.9,313.4 613.9,314.0 614.8,313.5 615.8,315.0 616.7,314.7 617.7,313.6 618.6,313.2 619.6,315.3 620.5,312.0 621.5,313.1 622.4,315.5 623.4,314.5 624.3,314.8 625.3,313.6 626.2,313.1 627.2,314.1 628.1,314.8 629.1,313.3 630.0,313.8 631.0,313.1 631.9,313.6 632.9,315.3 633.8,314.3 634.8,312.9 635.7,313.6 636.7,314.0 637.6,314.9 638.6,312.9 639.5,314.4 640.5,312.3 641.4,313.8 642.4,315.0 643.3,314.8 644.3,312.8 645.2,313.9 646.2,315.2 647.1,313.5 648.1,313.8 649.0,314.8 650.0,314.1 650.9,315.1 651.9,314.5 652.8,313.4 653.8,314.3 654.7,314.1 655.7,313.0 656.6,313.8 657.6,315.4 658.5,312.4 659.5,315.6 660.4,314.1 661.4,313.9 662.3,314.7 663.3,314.4 664.2,315.1 665.2,313.4 666.1,314.1 667.1,314.0 668.0,316.0 669.0,314.3 669.9,313.0 670.9,314.2 671.8,313.7 672.8,314.4 673.7,314.4 674.7,316.2 675.6,311.7 676.6,315.8 677.5,314.2 678.5,313.4 679.4,314.3 680.4,313.8 681.3,314.4 682.3,315.1 683.2,312.4 684.2,315.9 685.1,313.4 686.1,315.7 687.0,314.0 688.0,315.1 688.9,314.2 689.9,315.0 690.8,313.8 691.8,313.4 692.7,315.1 693.7,314.6 694.6,315.8 695.6,311.6" fill="none" stroke="#ee2020" stroke-width="0.9" stroke-linejoin="round"/>
</g>
<rect x="116.6" y="184.5" width="579.9" height="140.0" fill="none" stroke="#5e5e5e" stroke-width="1"/><path d="M116.6,184.0V325.0" fill="none" stroke="#262626" stroke-width="1.7"/>
<rect x="554.7" y="190.2" width="133.0" height="50.400000000000006" fill="#fff" stroke="#111" stroke-width="1.3"/><line x1="564" y1="205.4" x2="599" y2="205.4" stroke="#1a1aff" stroke-width="3"/><line x1="564" y1="227.2" x2="599" y2="227.2" stroke="#ee1111" stroke-width="3"/><text x="608.4" y="210.8" class="lg" letter-spacing="0.45">BEGAN</text><text x="609.8" y="233.0" class="lg" letter-spacing="0.9">SFGAN</text>
<text x="9.3" y="252.6" class="pl">(<tspan font-weight="bold" font-size="20.5px">b</tspan>)</text>
<text transform="translate(64.4,256.4) rotate(-90)" class="ax"><tspan class="it">L</tspan><tspan font-size="12.5" dy="4.5">G</tspan></text>
<!-- chart c -->
<text x="99.5" y="497.5" text-anchor="end" class="tk">0</text><text x="99.5" y="470.3" text-anchor="end" class="tk">0.02</text><text x="99.5" y="443.0" text-anchor="end" class="tk">0.04</text><text x="99.5" y="415.8" text-anchor="end" class="tk">0.06</text><text x="99.5" y="388.5" text-anchor="end" class="tk">0.08</text><text x="99.5" y="361.3" text-anchor="end" class="tk">0.1</text>
<rect x="117.5" y="356.5" width="579.1" height="136.10000000000002" fill="none" stroke="#151515" stroke-width="1.5"/>
<g clip-path="url(#cc)">
<polyline points="117.5,492.4 118.0,484.9 118.3,487.9 118.8,492.3 119.1,492.2 119.6,492.3 119.9,492.2 120.7,492.3 121.5,492.4 122.3,492.3 123.1,492.4 123.9,492.2 123.9,492.3 124.7,482.0 125.5,471.2 126.3,460.9 127.1,450.4 127.5,444.8 127.9,438.7 128.7,426.3 128.7,426.5 129.5,423.9 130.3,421.4 131.1,419.0 131.9,416.4 132.7,414.0 132.9,413.3 133.5,409.6 134.3,404.4 135.1,399.6 135.9,394.4 136.2,392.4 136.7,395.3 137.5,399.6 138.3,403.7 139.1,408.2 139.4,409.7 139.9,413.7 140.7,420.2 141.5,426.3 141.5,426.4 142.3,445.0 142.3,445.2 142.8,450.6 143.1,451.0 143.9,452.3 144.7,453.6 145.5,455.0 146.1,455.9 146.3,456.4 147.1,456.0 147.9,456.0 148.7,456.1 149.5,455.9 150.3,456.1 151.1,456.3 151.9,456.3 152.7,455.7 153.5,455.1 154.3,455.6 155.1,456.1 155.3,454.8 155.9,455.9 156.7,456.6 157.5,456.3 158.3,456.3 159.1,457.9 159.9,457.9 160.7,457.4 161.5,458.4 162.3,458.6 163.1,457.8 163.9,459.7 164.7,458.3 165.5,458.9 166.3,458.7 167.1,459.5 167.9,459.1 168.7,460.0 169.5,460.7 170.3,460.5 171.1,460.6 171.9,461.6 172.7,460.8 173.5,461.8 174.3,461.5 175.1,462.0 175.9,462.1 176.7,462.4 177.5,462.6 178.3,462.5 179.1,462.8 179.9,463.5 180.7,463.5 181.5,463.3 182.3,463.7 183.1,464.0 183.9,464.5 184.7,464.7 185.5,464.6 186.3,464.2 187.1,464.4 187.9,463.8 188.7,463.0 189.5,464.3 190.3,463.5 191.1,463.7 191.9,463.6 192.7,464.4 193.5,463.5 194.3,464.1 195.1,463.7 195.9,463.3 196.7,463.1 197.5,464.0 198.3,463.9 199.1,464.1 199.9,464.5 200.7,463.8 201.5,463.7 202.3,463.5 203.1,463.6 203.9,463.3 204.7,463.0 205.5,464.3 206.3,462.5 207.1,463.4 207.9,463.5 208.7,463.3 209.5,462.8 210.3,463.1 211.1,463.0 211.9,462.7 212.7,463.2 213.5,463.0 214.3,462.9 215.1,463.5 215.9,462.7 216.7,463.4 217.5,462.9 218.3,463.4 219.1,463.2 219.9,463.3 220.7,462.7 221.5,462.8 222.3,462.8 223.1,463.2 223.9,463.5 224.7,463.6 225.5,462.9 226.3,463.2 227.1,462.4 227.9,462.1 228.7,462.7 229.5,462.8 230.3,462.4 231.1,462.3 231.9,463.3 232.7,462.8 233.5,462.4 234.3,464.2 235.1,463.2 235.9,463.0 236.7,463.5 237.5,462.9 238.3,463.9 239.1,462.6 239.9,462.7 240.7,463.2 241.5,463.0 242.3,464.0 243.1,462.6 243.9,463.0 244.7,463.5 245.5,463.6 246.3,463.9 247.1,463.6 247.9,464.4 248.7,463.2 249.5,463.6 250.3,463.9 251.1,463.4 251.9,463.4 252.7,463.3 253.5,463.2 254.3,463.0 255.1,463.3 255.9,462.8 256.7,463.7 257.5,462.8 258.3,464.5 259.1,464.3 259.9,464.1 260.7,463.5 261.5,463.3 262.3,464.1 263.1,463.7 263.9,463.9 264.7,463.3 265.5,464.1 266.3,463.3 267.1,463.7 267.9,462.9 268.7,463.4 269.5,463.9 270.3,463.5 271.1,463.5 271.9,464.0 272.7,463.7 273.5,464.3 274.3,462.6 275.1,464.0 275.9,464.0 276.7,463.0 277.5,463.2 278.3,464.1 279.1,463.3 279.9,463.5 280.7,464.0 281.5,463.6 282.3,464.0 283.1,463.4 283.9,463.9 284.7,464.3 285.5,464.0 286.3,462.8 287.1,464.1 287.9,463.9 288.7,463.4 289.5,464.5 290.3,463.1 291.1,464.7 291.9,463.6 292.7,464.6 293.5,463.9 294.3,463.3 295.1,463.9 295.9,464.1 296.7,464.2 297.5,464.4 298.3,463.5 299.1,464.2 299.9,464.3 300.7,463.8 301.5,463.5 302.3,463.5 303.1,464.3 303.9,464.3 304.7,463.6 305.5,463.4 306.3,464.6 307.1,463.3 307.9,464.1 308.7,463.7 309.5,463.3 310.3,464.1 311.1,464.0 311.9,464.7 312.7,465.1 313.5,464.0 314.3,464.5 315.1,464.6 315.9,463.9 316.7,463.7 317.5,464.8 318.3,464.0 319.1,464.1 319.9,464.0 320.7,464.1 321.5,463.9 322.3,464.5 323.1,464.7 323.9,464.0 324.7,463.6 325.5,464.2 326.3,463.5 327.1,463.9 327.9,464.8 328.7,465.3 329.5,464.4 330.3,463.8 331.1,464.6 331.9,463.3 332.7,464.0 333.5,465.0 334.3,464.6 335.1,463.7 335.9,463.6 336.7,464.7 337.5,464.3 338.3,464.1 339.1,464.5 339.9,464.1 340.7,463.5 341.5,464.7 342.3,464.1 343.1,463.9 343.9,463.8 344.7,464.5 345.5,464.0 346.3,464.7 347.1,464.3 347.9,464.9 348.7,464.2 349.5,464.1 350.3,463.6 351.1,463.9 351.9,464.8 352.7,465.8 353.5,463.9 354.3,464.0 355.1,464.6 355.9,464.7 356.7,464.2 357.5,464.5 358.3,463.8 359.1,464.4 359.9,464.9 360.7,465.3 361.5,464.5 362.3,464.4 363.1,464.8 363.9,465.1 364.7,464.8 365.5,464.2 366.3,464.7 367.1,465.0 367.9,464.3 368.7,464.0 369.5,464.8 370.3,464.8 371.1,465.1 371.9,464.7 372.7,464.4 373.5,464.5 374.3,464.2 375.1,464.2 375.9,464.4 376.7,464.5 377.5,465.2 378.3,464.2 379.1,464.7 379.9,464.5 380.7,465.4 381.5,464.9 382.3,464.6 383.1,465.1 383.9,464.8 384.7,464.6 385.5,465.5 386.3,465.1 387.1,465.6 387.9,465.3 388.7,465.2 389.5,464.9 390.3,464.3 391.1,465.1 391.9,464.9 392.7,465.1 393.5,464.8 394.3,464.6 395.1,464.4 395.9,465.2 396.7,465.5 397.5,464.8 398.3,465.1 399.1,465.5 399.9,464.5 400.7,464.8 401.5,464.4 402.3,465.5 403.1,465.1 403.9,464.7 404.7,464.2 405.5,464.9 406.3,465.4 407.1,464.9 407.9,464.8 408.7,465.3 409.5,464.5 410.3,465.0 411.1,465.3 411.9,464.7 412.7,464.7 413.5,465.2 414.3,465.0 415.1,465.0 415.9,465.2 416.7,465.2 417.5,464.7 418.3,464.8 419.1,465.3 419.9,465.6 420.7,465.7 421.5,464.7 422.3,465.6 423.1,465.5 423.9,465.1 424.7,465.4 425.5,465.5 426.3,466.0 427.1,464.7 427.9,465.5 428.7,465.1 429.5,465.1 430.3,465.7 431.1,465.6 431.9,464.8 432.7,465.1 433.5,465.3 434.3,464.6 435.1,465.6 435.9,465.2 436.7,465.3 437.5,465.4 438.3,466.1 439.1,465.3 439.9,465.1 440.7,466.1 441.5,465.1 442.3,465.1 443.1,464.7 443.9,465.8 444.7,465.5 445.5,465.6 446.3,465.4 447.1,465.3 447.9,465.0 448.7,465.0 449.5,465.6 450.3,465.5 451.1,466.1 451.9,465.1 452.7,465.2 453.5,465.0 454.3,466.1 455.1,464.9 455.9,465.8 456.7,466.1 457.5,465.4 458.3,465.8 459.1,464.5 459.9,465.3 460.7,464.8 461.5,465.6 462.3,465.5 463.1,465.2 463.9,466.0 464.7,465.7 465.5,465.3 466.3,465.3 467.1,464.9 467.9,465.5 468.7,466.5 469.5,465.3 470.3,465.8 471.1,465.4 471.9,466.0 472.7,465.8 473.5,465.5 474.3,464.8 475.1,465.4 475.9,466.2 476.7,465.5 477.5,465.9 478.3,465.5 479.1,464.8 479.9,465.9 480.7,465.8 481.5,465.4 482.3,465.5 483.1,465.8 483.9,465.4 484.7,465.9 485.5,465.6 486.3,464.7 487.1,465.7 487.9,465.5 488.7,465.4 489.5,465.9 490.3,465.5 491.1,466.0 491.9,466.2 492.7,465.8 493.5,465.1 494.3,465.4 495.1,466.2 495.9,465.6 496.7,465.4 497.5,465.7 498.3,466.0 499.1,465.9 499.9,466.1 500.7,465.4 501.5,465.7 502.3,465.7 503.1,465.8 503.9,464.9 504.7,465.7 505.5,465.2 506.3,466.4 507.1,466.5 507.9,466.6 508.7,466.2 509.5,465.6 510.3,466.3 511.1,465.7 511.9,466.1 512.7,465.4 513.5,465.6 514.3,466.1 515.1,466.6 515.9,465.8 516.7,466.9 517.5,467.1 518.3,465.3 519.1,465.9 519.9,465.5 520.7,465.8 521.5,465.6 522.3,465.9 523.1,466.3 523.9,466.3 524.7,466.0 525.5,465.9 526.3,466.0 527.1,466.0 527.9,466.2 528.7,465.9 529.5,466.1 530.3,465.3 531.1,466.3 531.9,466.7 532.7,466.0 533.5,465.3 534.3,466.5 535.1,465.8 535.9,464.6 536.7,465.9 537.5,466.2 538.3,466.1 539.1,466.5 539.9,466.2 540.7,466.0 541.5,465.1 542.3,465.5 543.1,466.1 543.9,466.3 544.7,465.5 545.5,465.7 546.3,466.2 547.1,465.2 547.9,465.1 548.7,465.9 549.5,466.1 550.3,465.8 551.1,465.0 551.9,466.0 552.7,465.4 553.5,466.3 554.3,466.0 555.1,466.2 555.9,466.3 556.7,465.8 557.5,466.4 558.3,466.6 559.1,466.2 559.9,466.7 560.7,465.8 561.5,466.5 562.3,466.2 563.1,465.6 563.9,466.0 564.7,465.9 565.5,465.8 566.3,466.1 567.1,466.6 567.9,466.0 568.7,466.2 569.5,465.5 570.3,466.2 571.1,466.6 571.9,466.5 572.7,466.3 573.5,465.9 574.3,465.7 575.1,466.1 575.9,465.5 576.7,465.6 577.5,466.6 578.3,465.7 579.1,467.0 579.9,465.5 580.7,466.4 581.5,465.6 582.3,466.2 583.1,465.7 583.9,466.2 584.7,466.1 585.5,466.0 586.3,466.4 587.1,466.9 587.9,465.9 588.7,466.6 589.5,466.2 590.3,466.2 591.1,467.2 591.9,465.2 592.7,465.9 593.5,465.4 594.3,466.1 595.1,466.1 595.9,467.9 596.7,466.4 597.5,467.0 598.3,466.8 599.1,466.0 599.9,466.5 600.7,467.0 601.5,466.3 602.3,466.4 603.1,466.5 603.9,465.6 604.7,465.9 605.5,466.4 606.3,466.5 607.1,465.9 607.9,466.1 608.7,466.2 609.5,466.2 610.3,466.6 611.1,466.3 611.9,466.4 612.7,465.7 613.5,465.8 614.3,466.5 615.1,465.6 615.9,466.4 616.7,466.0 617.5,466.0 618.3,466.6 619.1,466.0 619.9,466.0 620.7,466.0 621.5,466.4 622.3,467.6 623.1,465.4 623.9,466.3 624.7,466.3 625.5,466.8 626.3,466.2 627.1,465.3 627.9,467.0 628.7,465.9 629.5,466.4 630.3,465.8 631.1,465.9 631.9,466.2 632.7,466.8 633.5,466.8 634.3,466.1 635.1,466.6 635.9,466.2 636.7,466.5 637.5,466.5 638.3,466.7 639.1,466.2 639.9,466.4 640.7,466.5 641.5,466.5 642.3,466.1 643.1,467.2 643.9,466.2 644.7,466.8 645.5,466.5 646.3,467.0 647.1,465.5 647.9,467.4 648.7,466.4 649.5,465.9 650.3,466.5 651.1,467.5 651.9,466.7 652.7,465.9 653.5,466.3 654.3,467.1 655.1,465.9 655.9,466.4 656.7,466.4 657.5,467.5 658.3,466.4 659.1,467.1 659.9,466.2 660.7,466.2 661.5,467.0 662.3,466.8 663.1,465.8 663.9,466.8 664.7,466.8 665.5,466.3 666.3,466.6 667.1,466.7 667.9,466.3 668.7,466.3 669.5,466.3 670.3,466.4 671.1,466.0 671.9,466.6 672.7,465.9 673.5,466.6 674.3,466.5 675.1,466.1 675.9,467.0 676.7,467.5 677.5,467.2 678.3,466.0 679.1,467.2 679.9,466.7 680.7,466.6 681.5,466.4 682.3,466.6 683.1,467.2 683.9,466.9 684.7,466.4 685.5,466.3 686.3,466.5 687.1,466.9 687.9,467.5 688.7,466.2 689.5,466.7 690.3,466.5 691.1,466.3 691.9,466.8 692.7,466.9 693.5,466.0 694.3,466.2 695.1,467.2 695.9,466.8" fill="none" stroke="#ee2020" stroke-width="0.9" stroke-linejoin="round"/>
<polyline points="118.4,390.0 119.2,364.5 119.8,366.0 120.0,372.7 120.5,389.5 120.8,390.2 121.0,390.7 121.6,399.0 122.1,403.1 122.4,403.0 123.2,403.3 124.0,403.9 124.8,403.5 125.6,405.0 126.4,407.2 127.2,411.1 128.0,416.1 128.8,414.6 129.6,415.0 130.4,419.1 131.2,419.7 132.0,420.3 132.8,420.3 133.6,420.0 134.4,423.2 135.2,420.3 136.0,423.1 136.8,421.9 137.6,422.1 138.4,425.7 139.2,421.0 140.0,425.2 140.8,426.1 141.6,425.1 142.4,426.9 143.2,425.9 144.0,426.3 144.8,429.5 145.6,426.2 146.4,427.8 147.2,427.2 148.0,428.5 148.8,430.4 149.6,430.2 150.4,430.3 151.2,430.5 152.0,432.9 152.8,430.5 153.6,433.7 154.4,433.7 155.2,433.7 156.0,435.5 156.8,434.8 157.6,435.6 158.4,438.8 159.2,436.9 160.0,438.5 160.8,437.6 161.6,439.7 162.4,439.6 163.2,440.6 164.0,442.1 164.8,439.4 165.6,441.7 166.4,441.6 167.2,438.7 168.0,443.1 168.8,443.9 169.6,444.3 170.4,443.2 171.2,446.0 172.0,445.8 172.8,444.5 173.6,447.6 174.4,447.3 175.2,446.0 176.0,445.5 176.8,448.9 177.6,446.2 178.4,447.0 179.2,447.9 180.0,447.2 180.8,449.4 181.6,448.5 182.4,449.3 183.2,448.7 184.0,447.8 184.8,449.6 185.6,450.8 186.4,449.5 187.2,454.0 188.0,449.8 188.8,451.5 189.6,454.0 190.4,453.2 191.2,453.2 192.0,453.9 192.8,455.2 193.6,455.8 194.4,455.8 195.2,455.1 196.0,456.8 196.8,457.1 197.6,457.2 198.4,453.7 199.2,458.2 200.0,457.6 200.8,458.4 201.6,458.9 202.4,459.8 203.2,459.4 204.0,459.2 204.8,460.1 205.6,462.2 206.4,459.4 207.2,462.0 208.0,463.2 208.8,461.8 209.6,460.5 210.4,464.6 211.2,463.2 212.0,465.0 212.8,469.4 213.6,477.9 214.4,483.3 215.2,487.2 216.0,485.4 216.8,485.6 217.6,486.6 218.4,486.5 219.2,485.5 220.0,486.2 220.8,487.6 221.6,485.1 222.4,485.8 223.2,492.0 224.0,486.0 224.8,488.4 225.6,488.0 226.4,488.7 227.2,488.6 228.0,488.9 228.8,487.1 229.6,492.0 230.4,486.7 231.2,492.4 232.0,484.2 232.8,489.6 233.6,492.4 234.4,488.8 235.2,489.1 236.0,492.2 236.8,488.1 237.6,492.4 238.4,486.3 239.2,492.4 240.0,490.6 240.8,492.4 241.6,492.4 242.4,489.0 243.2,492.4 244.0,488.9 244.8,491.9 245.6,492.1 246.4,491.9 247.2,492.3 248.0,492.2 248.8,492.2 249.6,492.0 250.4,492.1 251.2,492.1 252.0,492.2 252.8,491.8 253.6,491.9 254.4,492.3 255.2,492.1 256.0,492.1 256.8,491.9 257.6,492.2 258.4,492.2 259.2,492.2 260.0,492.3 260.8,492.2 261.6,492.2 262.4,492.2 263.2,492.1 264.0,492.3 264.8,492.1 265.6,491.9 266.4,492.1 267.2,491.9 268.0,491.9 268.8,492.2 269.6,492.3 270.4,492.0 271.2,492.2 272.0,492.1 272.8,491.9 273.6,492.2 274.4,492.2 275.2,492.2 276.0,492.0 276.8,492.2 277.6,491.9 278.4,491.9 279.2,492.3 280.0,492.0 280.8,492.0 281.6,492.0 282.4,492.1 283.2,491.7 284.0,492.0 284.8,492.2 285.6,492.0 286.4,491.7 287.2,492.0 288.0,492.3 288.8,492.3 289.6,492.0 290.4,492.2 291.2,492.0 292.0,492.1 292.8,492.2 293.6,492.0 294.4,491.9 295.2,492.0 296.0,492.1 296.8,492.2 297.6,492.3 298.4,492.1 299.2,492.1 300.0,492.2 300.8,492.2 301.6,492.3 302.4,492.1 303.2,492.1 304.0,492.2 304.8,491.8 305.6,491.8 306.4,492.1 307.2,492.2 308.0,492.2 308.8,492.2 309.6,492.0 310.4,492.2 311.2,492.2 312.0,492.1 312.8,491.9 313.6,492.2 314.4,492.2 315.2,492.2 316.0,492.3 316.8,491.8 317.6,492.2 318.4,492.3 319.2,492.0 320.0,491.9 320.8,492.2 321.6,492.1 322.4,492.2 323.2,492.2 324.0,492.1 324.8,492.2 325.6,491.9 326.4,492.3 327.2,492.2 328.0,492.1 328.8,492.2 329.6,492.2 330.4,492.1 331.2,492.0 332.0,492.1 332.8,492.0 333.6,492.2 334.4,492.1 335.2,492.1 336.0,492.2 336.8,492.3 337.6,492.3 338.4,491.7 339.2,492.3 340.0,492.2 340.8,492.2 341.6,492.3 342.4,492.2 343.2,492.0 344.0,491.8 344.8,492.2 345.6,491.9 346.4,492.2 347.2,492.3 348.0,492.0 348.8,491.9 349.6,492.2 350.4,492.2 351.2,492.0 352.0,492.1 352.8,492.3 353.6,491.8 354.4,492.3 355.2,492.3 356.0,492.1 356.8,492.2 357.6,492.3 358.4,492.1 359.2,492.2 360.0,491.9 360.8,492.3 361.6,491.9 362.4,492.3 363.2,492.2 364.0,492.1 364.8,491.9 365.6,492.1 366.4,492.1 367.2,492.3 368.0,492.1 368.8,492.0 369.6,492.3 370.4,492.3 371.2,492.2 372.0,492.3 372.8,492.2 373.6,492.2 374.4,492.2 375.2,492.3 376.0,492.1 376.8,491.9 377.6,492.1 378.4,492.2 379.2,492.3 380.0,492.0 380.8,491.9 381.6,492.3 382.4,491.7 383.2,492.0 384.0,492.2 384.8,491.7 385.6,491.8 386.4,492.3 387.2,492.3 388.0,492.3 388.8,492.1 389.6,491.8 390.4,492.3 391.2,492.1 392.0,491.9 392.8,492.1 393.6,492.2 394.4,492.0 395.2,492.3 396.0,492.1 396.8,492.2 397.6,492.0 398.4,492.1 399.2,492.3 400.0,492.0 400.8,492.1 401.6,492.1 402.4,492.2 403.2,492.3 404.0,492.1 404.8,492.3 405.6,491.9 406.4,492.1 407.2,492.1 408.0,492.1 408.8,491.9 409.6,492.2 410.4,492.1 411.2,491.9 412.0,492.2 412.8,491.9 413.6,491.9 414.4,492.1 415.2,491.8 416.0,492.1 416.8,492.1 417.6,492.0 418.4,492.2 419.2,492.2 420.0,492.3 420.8,492.0 421.6,492.2 422.4,492.1 423.2,492.2 424.0,492.1 424.8,492.1 425.6,492.2 426.4,492.2 427.2,492.1 428.0,492.2 428.8,492.0 429.6,491.8 430.4,492.0 431.2,492.0 432.0,492.0 432.8,492.0 433.6,492.2 434.4,492.1 435.2,492.2 436.0,492.3 436.8,492.2 437.6,492.2 438.4,492.2 439.2,492.0 440.0,492.2 440.8,492.3 441.6,492.3 442.4,492.2 443.2,492.1 444.0,492.2 444.8,492.3 445.6,491.9 446.4,491.7 447.2,491.8 448.0,491.9 448.8,491.8 449.6,492.2 450.4,491.9 451.2,492.2 452.0,491.9 452.8,491.8 453.6,492.1 454.4,491.7 455.2,492.1 456.0,492.1 456.8,492.2 457.6,492.2 458.4,492.0 459.2,492.0 460.0,491.7 460.8,492.2 461.6,492.3 462.4,492.1 463.2,492.3 464.0,492.2 464.8,492.2 465.6,492.0 466.4,491.9 467.2,492.1 468.0,492.2 468.8,491.8 469.6,492.0 470.4,491.8 471.2,492.2 472.0,492.3 472.8,492.0 473.6,492.3 474.4,491.8 475.2,492.2 476.0,491.9 476.8,492.2 477.6,492.0 478.4,492.2 479.2,492.0 480.0,492.2 480.8,492.2 481.6,492.0 482.4,491.8 483.2,492.1 484.0,492.2 484.8,492.3 485.6,492.2 486.4,492.0 487.2,492.3 488.0,492.2 488.8,492.2 489.6,492.0 490.4,492.3 491.2,491.9 492.0,492.1 492.8,492.1 493.6,492.2 494.4,492.2 495.2,492.2 496.0,492.0 496.8,491.9 497.6,491.9 498.4,492.2 499.2,492.2 500.0,491.8 500.8,492.3 501.6,492.2 502.4,492.3 503.2,492.0 504.0,492.2 504.8,492.2 505.6,492.2 506.4,492.2 507.2,492.0 508.0,491.8 508.8,492.3 509.6,492.2 510.4,492.2 511.2,491.8 512.0,492.1 512.8,492.1 513.6,489.5 514.4,492.2 515.2,491.9 516.0,492.2 516.8,491.8 517.6,492.1 518.4,492.2 519.2,492.3 520.0,492.3 520.8,492.3 521.6,491.8 522.4,492.2 523.2,492.0 524.0,492.2 524.8,492.1 525.6,492.3 526.4,492.2 527.2,492.1 528.0,491.9 528.8,492.3 529.6,492.2 530.4,492.2 531.2,492.3 532.0,491.9 532.8,492.2 533.6,492.0 534.4,491.5 535.2,492.2 536.0,492.0 536.8,491.8 537.6,492.3 538.4,491.9 539.2,492.1 540.0,492.2 540.8,491.9 541.6,492.2 542.4,492.0 543.2,492.0 544.0,492.1 544.8,492.0 545.6,491.7 546.4,492.0 547.2,492.3 548.0,491.9 548.8,492.0 549.6,492.2 550.4,492.1 551.2,492.3 552.0,492.3 552.8,492.2 553.6,491.8 554.4,492.0 555.2,492.1 556.0,492.2 556.8,492.3 557.6,492.2 558.4,491.9 559.2,492.2 560.0,492.3 560.8,492.2 561.6,491.9 562.4,492.2 563.2,492.3 564.0,492.2 564.8,492.3 565.6,492.1 566.4,492.2 567.2,492.2 568.0,492.1 568.8,492.2 569.6,492.3 570.4,492.2 571.2,491.9 572.0,492.0 572.8,492.0 573.6,492.1 574.4,492.3 575.2,492.0 576.0,492.3 576.8,492.1 577.6,492.0 578.4,492.2 579.2,492.3 580.0,492.3 580.8,492.0 581.6,492.1 582.4,492.2 583.2,491.9 584.0,492.2 584.8,492.3 585.6,491.8 586.4,492.2 587.2,492.3 588.0,492.0 588.8,492.3 589.6,492.3 590.4,492.2 591.2,491.9 592.0,492.0 592.8,492.2 593.6,492.2 594.4,492.0 595.2,492.2 596.0,491.9 596.8,492.2 597.6,492.0 598.4,492.2 599.2,491.9 600.0,491.8 600.8,492.2 601.6,492.1 602.4,492.2 603.2,492.2 604.0,492.2 604.8,492.3 605.6,492.2 606.4,492.2 607.2,492.1 608.0,492.0 608.8,492.1 609.6,492.1 610.4,491.5 611.2,492.1 612.0,492.2 612.8,492.2 613.6,491.9 614.4,491.9 615.2,492.2 616.0,492.2 616.8,492.2 617.6,492.2 618.4,492.1 619.2,492.2 620.0,492.2 620.8,492.0 621.6,492.2 622.4,492.3 623.2,492.0 624.0,492.0 624.8,492.0 625.6,491.8 626.4,492.1 627.2,492.1 628.0,492.3 628.8,492.0 629.6,492.3 630.4,492.0 631.2,492.3 632.0,491.8 632.8,491.9 633.6,492.1 634.4,492.3 635.2,492.3 636.0,492.2 636.8,492.2 637.6,492.0 638.4,492.1 639.2,492.1 640.0,491.9 640.8,492.0 641.6,492.1 642.4,492.2 643.2,492.0 644.0,492.2 644.8,492.0 645.6,492.3 646.4,492.0 647.2,492.2 648.0,491.7 648.8,492.1 649.6,492.0 650.4,492.2 651.2,492.2 652.0,492.2 652.8,492.2 653.6,491.9 654.4,492.0 655.2,492.1 656.0,491.9 656.8,491.9 657.6,492.2 658.4,492.2 659.2,492.3 660.0,492.2 660.8,492.2 661.6,492.2 662.4,492.3 663.2,492.0 664.0,492.0 664.8,492.0 665.6,492.2 666.4,492.3 667.2,491.9 668.0,492.1 668.8,492.1 669.6,492.2 670.4,492.1 671.2,492.0 672.0,492.3 672.8,492.0 673.6,492.2 674.4,491.9 675.2,492.2 676.0,492.2 676.8,492.1 677.6,492.1 678.4,492.2 679.2,492.1 680.0,492.3 680.8,492.3 681.6,492.0 682.4,492.1 683.2,492.2 684.0,492.2 684.8,492.3 685.6,492.3 686.4,491.9 687.2,491.7 688.0,492.3 688.8,492.2 689.6,492.0 690.4,492.0 691.2,492.2 692.0,492.1 692.8,492.2 693.6,491.8 694.4,492.2 695.2,492.0" fill="none" stroke="#2a2aee" stroke-width="0.9" stroke-linejoin="round"/>
</g>
<rect x="554.7" y="366.0" width="133.0" height="50.0" fill="#fff" stroke="#111" stroke-width="1.3"/><line x1="564" y1="381.0" x2="599" y2="381.0" stroke="#1a1aff" stroke-width="3"/><line x1="564" y1="403.0" x2="599" y2="403.0" stroke="#ee1111" stroke-width="3"/><text x="608.4" y="386.5" class="lg" letter-spacing="0.45">BEGAN</text><text x="609.8" y="408.8" class="lg" letter-spacing="0.9">SFGAN</text>
<text x="11.3" y="429.4" class="pl">(<tspan font-weight="bold" font-size="20.5px">c</tspan>)</text>
<text transform="translate(61.8,431) rotate(-90)" class="ax"><tspan class="it">k</tspan><tspan font-size="12.5" dy="4">t</tspan></text>
<text x="113.3" y="518.2" text-anchor="middle" class="tk">0</text><text x="154.5" y="518.2" text-anchor="middle" class="tk">200K</text><text x="195.8" y="518.2" text-anchor="middle" class="tk">400K</text><text x="237.0" y="518.2" text-anchor="middle" class="tk">600K</text><text x="278.3" y="518.2" text-anchor="middle" class="tk">800K</text><text x="319.5" y="518.2" text-anchor="middle" class="tk">1.M</text><text x="360.7" y="518.2" text-anchor="middle" class="tk">1.2M</text><text x="402.0" y="518.2" text-anchor="middle" class="tk">1.4M</text><text x="443.2" y="518.2" text-anchor="middle" class="tk">1.6M</text><text x="484.5" y="518.2" text-anchor="middle" class="tk">1.8M</text><text x="525.7" y="518.2" text-anchor="middle" class="tk">2.M</text><text x="566.9" y="518.2" text-anchor="middle" class="tk">2.3M</text><text x="608.2" y="518.2" text-anchor="middle" class="tk">2.5M</text><text x="649.4" y="518.2" text-anchor="middle" class="tk">2.8M</text><text x="690.7" y="518.2" text-anchor="middle" class="tk">3.0M</text>
<text x="395.8" y="541" text-anchor="middle" class="lg" letter-spacing="1.1">Step</text>
<!-- panel d -->
<text x="57.6" y="606.7" class="lg" letter-spacing="0.5">BEGAN</text>
<text x="59.4" y="690.5" class="lg" letter-spacing="0.95">SFGAN</text>
<text x="9.8" y="650.8" class="pl">(<tspan font-weight="bold" font-size="20.5px">d</tspan>)</text>
<g transform="translate(136.5,573.9)"><clipPath id="t3"><rect x="0" y="0" width="62.7" height="61.7"/></clipPath><g clip-path="url(#t3)"><defs><radialGradient id="g1" cx="0.25" cy="0.55" r="0.95"><stop offset="0" stop-color="#6c7886"/><stop offset="0.5" stop-color="#586472"/><stop offset="1" stop-color="#3c4654"/></radialGradient></defs><rect x="-1" y="-1" width="64.0" height="63.7" fill="url(#g1)"/><defs><radialGradient id="s2" cx="0.5" cy="0.55" r="0.62"><stop offset="0" stop-color="#e6c2a6"/><stop offset="0.55" stop-color="#d2a486"/><stop offset="1" stop-color="#a8745a"/></radialGradient></defs><g filter="url(#bl1)"><path d="M20.5,42 Q14.2,40 14.5,33 C14.0,19.7 19.1,14.1 33.5,14.1 C48.0,14.1 53.1,21.3 52.6,41 Q52.9,48 46.6,50 Z" fill="#2a2220"/><path d="M15.6,30.5 C15.6,17.0 48.2,17.0 48.2,30.5 C48.5,44.4 48,61.5 31.9,62.5 C16,61.5 15.299999999999999,44.4 15.6,30.5 Z" fill="url(#s2)"/><ellipse cx="50" cy="44.5" rx="2.8" ry="6" fill="#d8b8a8"/><ellipse cx="22" cy="22.5" rx="2" ry="1.5" fill="#8a4a38" opacity="0.6"/></g><g filter="url(#bl07)"><ellipse cx="22.5" cy="38.6" rx="3.0" ry="1.0" fill="#6a4434"/><ellipse cx="38.1" cy="38.6" rx="3.8999999999999986" ry="1.0" fill="#6a4434"/><ellipse cx="28.25" cy="45.1" rx="1.3" ry="5.0" fill="#9a6048" opacity="0.22"/><ellipse cx="30.35" cy="48.0" rx="3" ry="1.1" fill="#9a6048" opacity="0.45"/><ellipse cx="31.099999999999998" cy="53.400000000000006" rx="6.299999999999999" ry="2.6000000000000005" fill="#7a4038"/><ellipse cx="31.099999999999998" cy="53.10000000000001" rx="5.1" ry="1.8000000000000007" fill="#e8ded8"/></g></g></g>
<g transform="translate(198.5,573.9)"><clipPath id="t6"><rect x="0" y="0" width="62.7" height="61.7"/></clipPath><g clip-path="url(#t6)"><defs><linearGradient id="g4" x1="0" y1="0" x2="1" y2="0"><stop offset="0" stop-color="#2a2d33"/><stop offset="0.55" stop-color="#2e3238"/><stop offset="1" stop-color="#3c424a"/></linearGradient></defs><rect x="-1" y="-1" width="64.0" height="63.7" fill="url(#g4)"/><defs><radialGradient id="s5" cx="0.55" cy="0.45" r="0.6"><stop offset="0" stop-color="#d0a488"/><stop offset="0.55" stop-color="#b88a70"/><stop offset="1" stop-color="#7a5444"/></radialGradient></defs><g filter="url(#bl1)"><path d="M11.9,66 Q3.6,64 3.9,57 C3.4,19.7 8.6,8.1 23.4,8.1 C38.3,8.1 43.5,19.7 43,57 Q43.3,64 35,66 Z" fill="#1e1a18"/><path d="M17,30.6 C17,17.1 40.4,17.1 40.4,30.6 C40.699999999999996,43.3 41,59.5 28.7,60.5 C20,59.5 16.7,43.3 17,30.6 Z" fill="url(#s5)"/><path d="M15,14 Q24,9 32,16 Q22,22 19,42 Q14,34 15,14Z" fill="#1e1a18"/><path d="M3,40 Q8,30 14,44 Q10,52 6,62 L2,62Z" fill="#2a2420" opacity="0.8"/></g><g filter="url(#bl07)"><path d="M20.3,35.3 Q23.9,33.699999999999996 27.5,35.099999999999994 M33.7,35.099999999999994 Q36.85,33.699999999999996 40.0,35.3" stroke="#2a1e18" stroke-width="1.4" fill="none" opacity="0.55"/><ellipse cx="23.9" cy="38.3" rx="3.0999999999999996" ry="1.3" fill="#2e2220"/><ellipse cx="36.85" cy="38.3" rx="2.6499999999999986" ry="1.3" fill="#2e2220"/><ellipse cx="29.0" cy="44.95" rx="1.3" ry="5.2" fill="#7a5040" opacity="0.22"/><ellipse cx="31.1" cy="48.0" rx="3" ry="1.1" fill="#7a5040" opacity="0.45"/><ellipse cx="30.200000000000003" cy="53.400000000000006" rx="4.000000000000002" ry="1.8000000000000007" fill="#9a6058"/><line x1="26.7" y1="53.400000000000006" x2="33.7" y2="53.400000000000006" stroke="#6a3a34" stroke-width="0.6" opacity="0.7"/></g></g></g>
<g transform="translate(281.7,573.9)"><clipPath id="t9"><rect x="0" y="0" width="62.7" height="61.7"/></clipPath><g clip-path="url(#t9)"><defs><linearGradient id="g7" x1="0" y1="0" x2="0" y2="1"><stop offset="0" stop-color="#cbbfc9"/><stop offset="1" stop-color="#c7b9c4"/></linearGradient></defs><rect x="-1" y="-1" width="64.0" height="63.7" fill="url(#g7)"/><defs><radialGradient id="s8" cx="0.5" cy="0.5" r="0.6"><stop offset="0" stop-color="#ecd6ce"/><stop offset="0.55" stop-color="#dcbcb4"/><stop offset="1" stop-color="#b4948e"/></radialGradient></defs><g filter="url(#bl1)"><path d="M17.5,40 Q13.2,38 13.5,31 C13.0,19.8 17.6,14.8 30.6,14.8 C43.7,14.8 48.3,20.2 47.8,33 Q48.099999999999994,40 43.8,42 Z" fill="#3a302e"/><rect x="19" y="57" width="26" height="6" fill="#3e3232"/><path d="M14.8,33 C14.8,19.5 47.4,19.5 47.4,33 C47.699999999999996,45.2 47,61 31.1,62 C16,61 14.5,45.2 14.8,33 Z" fill="url(#s8)"/></g><g filter="url(#bl07)"><ellipse cx="23.65" cy="38.3" rx="3.549999999999999" ry="1.0" fill="#7a6462"/><ellipse cx="37.95" cy="38.3" rx="3.5500000000000007" ry="1.0" fill="#7a6462"/><ellipse cx="29.199999999999996" cy="44.95" rx="1.3" ry="5.2" fill="#a07a74" opacity="0.22"/><ellipse cx="31.299999999999997" cy="48.0" rx="3" ry="1.1" fill="#a07a74" opacity="0.45"/><ellipse cx="30.35" cy="53.400000000000006" rx="6.35" ry="2.6000000000000005" fill="#7a4038"/><ellipse cx="30.35" cy="53.10000000000001" rx="5.15" ry="1.8000000000000007" fill="#e8ded8"/></g></g></g>
<g transform="translate(343.7,573.9)"><clipPath id="t12"><rect x="0" y="0" width="62.7" height="61.7"/></clipPath><g clip-path="url(#t12)"><defs><linearGradient id="g10" x1="0" y1="0" x2="0" y2="1"><stop offset="0" stop-color="#c9b9c9"/><stop offset="0.3" stop-color="#c6b4c4"/><stop offset="1" stop-color="#b08494"/></linearGradient></defs><rect x="-1" y="-1" width="64.0" height="63.7" fill="url(#g10)"/><defs><radialGradient id="s11" cx="0.5" cy="0.45" r="0.6"><stop offset="0" stop-color="#d4b2aa"/><stop offset="0.55" stop-color="#c09a92"/><stop offset="1" stop-color="#8a6660"/></radialGradient></defs><g filter="url(#bl1)"><ellipse cx="3" cy="42" rx="12" ry="28" fill="#9a5c6e"/><ellipse cx="60" cy="50" rx="10" ry="26" fill="#a06878"/><path d="M10.6,66 Q2.3000000000000003,64 2.6,57 C2.1,20.0 8.5,8.5 27.0,8.5 C45.5,8.5 51.9,20.0 51.4,57 Q51.699999999999996,64 43.4,66 Z" fill="#1a1a18"/><path d="M18.1,33.3 C18.1,19.8 42.6,19.8 42.6,33.3 C42.9,44.5 41,59.5 30.4,60.5 C21,59.5 17.8,44.5 18.1,33.3 Z" fill="url(#s11)"/><path d="M16,24 Q26,14 40,20 Q28,22 21,46 Q16,40 16,24Z" fill="#1a1a18"/></g><g filter="url(#bl07)"><path d="M20.3,34.4 Q24.1,32.8 27.9,34.199999999999996 M34.1,34.199999999999996 Q37.900000000000006,32.8 41.7,34.4" stroke="#2a1e1e" stroke-width="1.4" fill="none" opacity="0.55"/><ellipse cx="24.1" cy="37.4" rx="3.299999999999999" ry="1.3" fill="#3a2a2a"/><ellipse cx="37.900000000000006" cy="37.4" rx="3.3000000000000007" ry="1.3" fill="#3a2a2a"/><ellipse cx="29.4" cy="44.5" rx="1.3" ry="5.6" fill="#7a5a54" opacity="0.22"/><ellipse cx="31.5" cy="48.0" rx="3" ry="1.1" fill="#7a5a54" opacity="0.45"/><ellipse cx="30.6" cy="53.85" rx="4.0" ry="2.25" fill="#8e5a58"/><line x1="27.1" y1="53.85" x2="34.1" y2="53.85" stroke="#6a3a34" stroke-width="0.6" opacity="0.7"/></g></g></g>
<g transform="translate(424.5,573.9)"><clipPath id="t14"><rect x="0" y="0" width="62.7" height="61.7"/></clipPath><g clip-path="url(#t14)"><defs><linearGradient id="g13" x1="0" y1="0" x2="0" y2="1"><stop offset="0" stop-color="#8a7b6d"/><stop offset="1" stop-color="#85766a"/></linearGradient></defs><rect x="-1" y="-1" width="64.0" height="63.7" fill="url(#g13)"/><g filter="url(#bl1)"><path d="M-2,63 L-2,50 Q6,45 17,45 Q23,50 23,63Z" fill="#2e2a24"/></g><g filter="url(#bl1)"><path d="M18,44 C15,30 20,17 32,17 C43,17 49,26 48,36 C48,46 46,54 44,60 L20,62 Z" fill="#3a2818"/><ellipse cx="33" cy="23.5" rx="11" ry="6" fill="#4a2616"/><ellipse cx="33" cy="46" rx="11.5" ry="11.5" fill="#7a6c4c"/><ellipse cx="38.5" cy="44" rx="4.5" ry="5" fill="#9a8450"/><ellipse cx="27.5" cy="41" rx="4" ry="3" fill="#a09088"/><ellipse cx="31" cy="51" rx="5" ry="3" fill="#9a8470"/><ellipse cx="26.5" cy="28.5" rx="4.5" ry="2" fill="#221408"/><ellipse cx="38.5" cy="28.5" rx="4.5" ry="2" fill="#221408"/><ellipse cx="31" cy="34.5" rx="8" ry="3" fill="#8a7a80" opacity="0.8"/><ellipse cx="31.5" cy="32.5" rx="2.8" ry="1.8" fill="#b0a2a8"/><ellipse cx="26" cy="36" rx="2.2" ry="1.4" fill="#a89ca0"/><ellipse cx="36" cy="36" rx="2.2" ry="1.4" fill="#a09498"/><ellipse cx="29.5" cy="46.5" rx="2.5" ry="1.5" fill="#3a3020"/><ellipse cx="36" cy="47.5" rx="3" ry="1.5" fill="#4a3a28"/><ellipse cx="32" cy="55.5" rx="5" ry="2" fill="#8a7a78" opacity="0.7"/></g></g></g>
<g transform="translate(486.5,573.9)"><clipPath id="t16"><rect x="0" y="0" width="62.7" height="61.7"/></clipPath><g clip-path="url(#t16)"><defs><linearGradient id="g15" x1="0" y1="0" x2="1" y2="0"><stop offset="0" stop-color="#221d18"/><stop offset="1" stop-color="#27211a"/></linearGradient></defs><rect x="-1" y="-1" width="64.0" height="63.7" fill="url(#g15)"/><g filter="url(#bl1)"><ellipse cx="32" cy="40" rx="18" ry="24" fill="#2e2419"/></g><g filter="url(#bl1)"><path d="M18,44 C15,30 20,17 32,17 C43,17 49,26 48,36 C48,46 46,54 44,60 L20,62 Z" fill="#3a2a1a"/><ellipse cx="33" cy="23.5" rx="11" ry="6" fill="#4a2616"/><ellipse cx="33" cy="46" rx="11.5" ry="11.5" fill="#7a6c4c"/><ellipse cx="38.5" cy="44" rx="4.5" ry="5" fill="#9a8450"/><ellipse cx="27.5" cy="41" rx="4" ry="3" fill="#a09088"/><ellipse cx="31" cy="51" rx="5" ry="3" fill="#9a8470"/><ellipse cx="26.5" cy="28.5" rx="4.5" ry="2" fill="#221408"/><ellipse cx="38.5" cy="28.5" rx="4.5" ry="2" fill="#221408"/><ellipse cx="31" cy="34.5" rx="8" ry="3" fill="#8a7a80" opacity="0.8"/><ellipse cx="31.5" cy="32.5" rx="2.8" ry="1.8" fill="#b0a2a8"/><ellipse cx="26" cy="36" rx="2.2" ry="1.4" fill="#a89ca0"/><ellipse cx="36" cy="36" rx="2.2" ry="1.4" fill="#a09498"/><ellipse cx="29.5" cy="46.5" rx="2.5" ry="1.5" fill="#3a3020"/><ellipse cx="36" cy="47.5" rx="3" ry="1.5" fill="#4a3a28"/><ellipse cx="32" cy="55.5" rx="5" ry="2" fill="#8a7a78" opacity="0.7"/></g><path d="M5,8 l3,1 M21,5 l1,6 M25,6 l3,1 l1,4 M32,9 l4,-1 M39,7 l2,4 M45,6 l1,5" stroke="#0e0a08" stroke-width="1.4" fill="none" opacity="0.85"/></g></g>
<rect x="570.4" y="573.9" width="124.0" height="61.7" fill="#fb0000"/>
<g transform="translate(570.4,573.9)"><g filter="url(#bl05)"><path d="M35,26 L38.5,30" stroke="#f6d0c0" stroke-width="1.6"/><ellipse cx="40" cy="31.5" rx="1" ry="0.8" fill="#f4b8a8"/><path d="M38.5,33.5 L38.8,38" stroke="#eca890" stroke-width="1.3"/><ellipse cx="31.5" cy="36" rx="2" ry="2" fill="#e0d4d4"/><ellipse cx="31.6" cy="36" rx="0.9" ry="0.9" fill="#6a5a58"/><ellipse cx="30" cy="39" rx="1.4" ry="0.9" fill="#f4c4b4"/><ellipse cx="34.5" cy="38.5" rx="1.2" ry="0.9" fill="#d88850"/><ellipse cx="26.5" cy="40.5" rx="1.5" ry="0.8" fill="#f49090"/><ellipse cx="36" cy="41.5" rx="1.2" ry="0.8" fill="#f4a8a0"/><ellipse cx="40.5" cy="41.5" rx="1" ry="0.8" fill="#f0a090"/><ellipse cx="33" cy="29" rx="0.8" ry="0.8" fill="#f4a0a0"/><ellipse cx="22" cy="31" rx="1.2" ry="1.2" fill="#f46060"/></g></g>
<g transform="translate(632.4,573.9)"><g filter="url(#bl05)"><path d="M35,26 L38.5,30" stroke="#f6d0c0" stroke-width="1.6"/><ellipse cx="40" cy="31.5" rx="1" ry="0.8" fill="#f4b8a8"/><path d="M38.5,33.5 L38.8,38" stroke="#eca890" stroke-width="1.3"/><ellipse cx="31.5" cy="36" rx="2" ry="2" fill="#e0d4d4"/><ellipse cx="31.6" cy="36" rx="0.9" ry="0.9" fill="#6a5a58"/><ellipse cx="30" cy="39" rx="1.4" ry="0.9" fill="#f4c4b4"/><ellipse cx="34.5" cy="38.5" rx="1.2" ry="0.9" fill="#d88850"/><ellipse cx="26.5" cy="40.5" rx="1.5" ry="0.8" fill="#f49090"/><ellipse cx="36" cy="41.5" rx="1.2" ry="0.8" fill="#f4a8a0"/><ellipse cx="40.5" cy="41.5" rx="1" ry="0.8" fill="#f0a090"/><ellipse cx="33" cy="29" rx="0.8" ry="0.8" fill="#f4a0a0"/><ellipse cx="22" cy="31" rx="1.2" ry="1.2" fill="#f46060"/></g></g>
<g transform="translate(136.5,648.0)"><clipPath id="t20"><rect x="0" y="0" width="62.7" height="61.2"/></clipPath><g clip-path="url(#t20)"><defs><linearGradient id="g17" x1="0" y1="0" x2="1" y2="0"><stop offset="0" stop-color="#e8e6e6"/><stop offset="1" stop-color="#e4e2e2"/></linearGradient></defs><rect x="-1" y="-1" width="64.0" height="63.2" fill="url(#g17)"/><defs><radialGradient id="s18" cx="0.5" cy="0.45" r="0.62"><stop offset="0" stop-color="#e2c2b0"/><stop offset="0.55" stop-color="#d4ac98"/><stop offset="1" stop-color="#b08874"/></radialGradient></defs><defs><linearGradient id="h19" x1="0" y1="0" x2="0" y2="1"><stop offset="0" stop-color="#8a7a6c" stop-opacity="0.85"/><stop offset="0.5" stop-color="#8a7a6c"/><stop offset="1" stop-color="#8a7a6c"/></linearGradient></defs><g filter="url(#bl1)"><path d="M21.3,38 Q16.0,36 16.3,29 C15.8,16.2 20.6,10.7 34.2,10.7 C47.8,10.7 52.6,18.2 52.1,39.3 Q52.4,46.3 47.1,48.3 Z" fill="url(#h19)"/><path d="M18.2,34.8 C18.2,21.3 48,21.3 48,34.8 C48.3,44.6 42.4,58.7 33.1,59.7 C22.4,58.7 17.9,44.6 18.2,34.8 Z" fill="url(#s18)"/></g><g filter="url(#bl07)"><path d="M20.1,34.8 Q23.450000000000003,33.199999999999996 26.8,34.599999999999994 M33.7,34.599999999999994 Q37.25,33.199999999999996 40.8,34.8" stroke="#6a4a3a" stroke-width="1.4" fill="none" opacity="0.55"/><ellipse cx="23.450000000000003" cy="37.8" rx="2.8499999999999996" ry="1.2" fill="#3a2a24"/><ellipse cx="37.25" cy="37.8" rx="3.049999999999997" ry="1.2" fill="#3a2a24"/><ellipse cx="28.65" cy="44.349999999999994" rx="1.3" ry="5.1" fill="#9a6a58" opacity="0.22"/><ellipse cx="30.75" cy="47.3" rx="3" ry="1.1" fill="#9a6a58" opacity="0.45"/><ellipse cx="30.700000000000003" cy="52.65" rx="4.4" ry="1.75" fill="#b07068"/><line x1="26.8" y1="52.65" x2="34.6" y2="52.65" stroke="#6a3a34" stroke-width="0.6" opacity="0.7"/></g></g></g>
<g transform="translate(198.5,648.0)"><clipPath id="t24"><rect x="0" y="0" width="62.7" height="61.2"/></clipPath><g clip-path="url(#t24)"><defs><linearGradient id="g21" x1="0" y1="0" x2="1" y2="0"><stop offset="0" stop-color="#c8c6c8"/><stop offset="1" stop-color="#b6b4b6"/></linearGradient></defs><rect x="-1" y="-1" width="64.0" height="63.2" fill="url(#g21)"/><defs><radialGradient id="s22" cx="0.5" cy="0.45" r="0.62"><stop offset="0" stop-color="#d8ac90"/><stop offset="0.55" stop-color="#c89478"/><stop offset="1" stop-color="#9a6a50"/></radialGradient></defs><defs><linearGradient id="h23" x1="0" y1="0" x2="0" y2="1"><stop offset="0" stop-color="#4a3a30" stop-opacity="0.85"/><stop offset="0.5" stop-color="#4a3a30"/><stop offset="1" stop-color="#4a3a30"/></linearGradient></defs><g filter="url(#bl1)"><path d="M16,66 Q6.7,64 7,57 C6.5,17.6 12.0,5.5 27.7,5.5 C43.4,5.5 48.9,16.4 48.4,51 Q48.699999999999996,58 39.4,60 Z" fill="url(#h23)"/><ellipse cx="13" cy="40" rx="2.8" ry="5.5" fill="#c89478"/><path d="M15.5,32.5 C15.5,19.0 46.6,19.0 46.6,32.5 C46.9,44.2 43,59.6 31.1,60.6 C21,59.6 15.2,44.2 15.5,32.5 Z" fill="url(#s22)"/></g><g filter="url(#bl07)"><path d="M19.4,35.4 Q23.45,33.8 27.5,35.199999999999996 M33.7,35.199999999999996 Q37.75,33.8 41.8,35.4" stroke="#6a4a3a" stroke-width="1.4" fill="none" opacity="0.55"/><ellipse cx="23.45" cy="38.4" rx="3.5500000000000007" ry="1.2" fill="#3a2a24"/><ellipse cx="37.75" cy="38.4" rx="3.549999999999997" ry="1.2" fill="#3a2a24"/><ellipse cx="29.0" cy="45.05" rx="1.3" ry="5.2" fill="#9a6a58" opacity="0.22"/><ellipse cx="31.1" cy="48.1" rx="3" ry="1.1" fill="#9a6a58" opacity="0.45"/><ellipse cx="30.200000000000003" cy="53.95" rx="4.9" ry="2.25" fill="#b07068"/><line x1="25.8" y1="53.95" x2="34.6" y2="53.95" stroke="#6a3a34" stroke-width="0.6" opacity="0.7"/></g></g></g>
<g transform="translate(281.7,648.0)"><clipPath id="t28"><rect x="0" y="0" width="62.7" height="61.2"/></clipPath><g clip-path="url(#t28)"><defs><linearGradient id="g25" x1="0" y1="0" x2="1" y2="0"><stop offset="0" stop-color="#f2f0f0"/><stop offset="1" stop-color="#eeecec"/></linearGradient></defs><rect x="-1" y="-1" width="64.0" height="63.2" fill="url(#g25)"/><defs><radialGradient id="s26" cx="0.5" cy="0.45" r="0.62"><stop offset="0" stop-color="#e2bea8"/><stop offset="0.55" stop-color="#d4a690"/><stop offset="1" stop-color="#b08068"/></radialGradient></defs><defs><linearGradient id="h27" x1="0" y1="0" x2="0" y2="1"><stop offset="0" stop-color="#5e4a3c" stop-opacity="0.85"/><stop offset="0.5" stop-color="#5e4a3c"/><stop offset="1" stop-color="#5e4a3c"/></linearGradient></defs><g filter="url(#bl1)"><path d="M21.6,37 Q16.3,35 16.6,28 C16.1,17.2 20.7,12.2 33.7,12.2 C46.7,12.2 51.3,18.6 50.8,35 Q51.099999999999994,42 45.8,44 Z" fill="url(#h27)"/><path d="M18.4,36.1 C18.4,22.6 47.7,22.6 47.7,36.1 C48.0,45.7 43,59.6 33.0,60.6 C22,59.6 18.099999999999998,45.7 18.4,36.1 Z" fill="url(#s26)"/></g><g filter="url(#bl07)"><path d="M19.7,35.4 Q23.7,33.8 27.7,35.199999999999996 M33.9,35.199999999999996 Q37.7,33.8 41.5,35.4" stroke="#6a4a3a" stroke-width="1.4" fill="none" opacity="0.55"/><ellipse cx="23.7" cy="38.4" rx="3.5" ry="1.2" fill="#3a2a24"/><ellipse cx="37.7" cy="38.4" rx="3.3000000000000007" ry="1.2" fill="#3a2a24"/><ellipse cx="29.199999999999996" cy="45.05" rx="1.3" ry="5.2" fill="#9a6a58" opacity="0.22"/><ellipse cx="31.299999999999997" cy="48.1" rx="3" ry="1.1" fill="#9a6a58" opacity="0.45"/><ellipse cx="29.95" cy="53.45" rx="4.449999999999999" ry="1.75" fill="#b07068"/><line x1="26.0" y1="53.45" x2="33.9" y2="53.45" stroke="#6a3a34" stroke-width="0.6" opacity="0.7"/></g></g></g>
<g transform="translate(343.7,648.0)"><clipPath id="t32"><rect x="0" y="0" width="62.7" height="61.2"/></clipPath><g clip-path="url(#t32)"><defs><linearGradient id="g29" x1="0" y1="0" x2="1" y2="0"><stop offset="0" stop-color="#cfcbcb"/><stop offset="1" stop-color="#d6d2d2"/></linearGradient></defs><rect x="-1" y="-1" width="64.0" height="63.2" fill="url(#g29)"/><defs><radialGradient id="s30" cx="0.5" cy="0.45" r="0.62"><stop offset="0" stop-color="#dca484"/><stop offset="0.55" stop-color="#c88868"/><stop offset="1" stop-color="#9a6448"/></radialGradient></defs><defs><linearGradient id="h31" x1="0" y1="0" x2="0" y2="1"><stop offset="0" stop-color="#2a201a" stop-opacity="0.85"/><stop offset="0.5" stop-color="#2a201a"/><stop offset="1" stop-color="#2a201a"/></linearGradient></defs><g filter="url(#bl1)"><path d="M13.3,66 Q4.0,64 4.3,57 C3.8,15.6 9.9,3 27.4,3 C45.0,3 51.1,15.6 50.6,57 Q50.9,64 41.6,66 Z" fill="url(#h31)"/><ellipse cx="14" cy="40" rx="2.8" ry="5.5" fill="#c88868"/><path d="M15.9,34.3 C15.9,20.8 46.1,20.8 46.1,34.3 C46.4,44.9 43,59.6 31.0,60.6 C21,59.6 15.6,44.9 15.9,34.3 Z" fill="url(#s30)"/></g><g filter="url(#bl07)"><path d="M19.8,35.4 Q23.85,33.8 27.9,35.199999999999996 M34.1,35.199999999999996 Q37.7,33.8 41.3,35.4" stroke="#6a4a3a" stroke-width="1.4" fill="none" opacity="0.55"/><ellipse cx="23.85" cy="38.4" rx="3.549999999999999" ry="1.2" fill="#3a2a24"/><ellipse cx="37.7" cy="38.4" rx="3.099999999999998" ry="1.2" fill="#3a2a24"/><ellipse cx="29.4" cy="45.05" rx="1.3" ry="5.2" fill="#9a6a58" opacity="0.22"/><ellipse cx="31.5" cy="48.1" rx="3" ry="1.1" fill="#9a6a58" opacity="0.45"/><ellipse cx="30.549999999999997" cy="53.95" rx="4.85" ry="2.25" fill="#b07068"/><line x1="26.2" y1="53.95" x2="34.9" y2="53.95" stroke="#6a3a34" stroke-width="0.6" opacity="0.7"/></g></g></g>
<g transform="translate(424.5,648.0)"><clipPath id="t36"><rect x="0" y="0" width="62.7" height="61.2"/></clipPath><g clip-path="url(#t36)"><defs><linearGradient id="g33" x1="0" y1="0" x2="1" y2="0"><stop offset="0" stop-color="#eaeaea"/><stop offset="1" stop-color="#e6e6e6"/></linearGradient></defs><rect x="-1" y="-1" width="64.0" height="63.2" fill="url(#g33)"/><defs><radialGradient id="s34" cx="0.5" cy="0.45" r="0.62"><stop offset="0" stop-color="#e2bea8"/><stop offset="0.55" stop-color="#d4a690"/><stop offset="1" stop-color="#a87860"/></radialGradient></defs><defs><linearGradient id="h35" x1="0" y1="0" x2="0" y2="1"><stop offset="0" stop-color="#4e3c32" stop-opacity="0.85"/><stop offset="0.5" stop-color="#4e3c32"/><stop offset="1" stop-color="#4e3c32"/></linearGradient></defs><g filter="url(#bl1)"><path d="M20.4,37.5 Q15.1,35.5 15.4,28.5 C14.9,15.5 19.8,10 33.9,10 C47.9,10 52.8,16.7 52.3,34.7 Q52.599999999999994,41.7 47.3,43.7 Z" fill="url(#h35)"/><path d="M18.1,35.2 C18.1,21.7 48.8,21.7 48.8,35.2 C49.099999999999994,45.3 44,59.6 33.5,60.6 C22,59.6 17.8,45.3 18.1,35.2 Z" fill="url(#s34)"/></g><g filter="url(#bl07)"><path d="M19.8,35.4 Q23.85,33.8 27.9,35.199999999999996 M34.1,35.199999999999996 Q37.7,33.8 41.3,35.4" stroke="#6a4a3a" stroke-width="1.4" fill="none" opacity="0.55"/><ellipse cx="23.85" cy="38.4" rx="3.549999999999999" ry="1.2" fill="#3a2a24"/><ellipse cx="37.7" cy="38.4" rx="3.099999999999998" ry="1.2" fill="#3a2a24"/><ellipse cx="29.4" cy="45.05" rx="1.3" ry="5.2" fill="#9a6a58" opacity="0.22"/><ellipse cx="31.5" cy="48.1" rx="3" ry="1.1" fill="#9a6a58" opacity="0.45"/><ellipse cx="30.15" cy="53.45" rx="4.450000000000001" ry="1.75" fill="#b07068"/><line x1="26.2" y1="53.45" x2="34.1" y2="53.45" stroke="#6a3a34" stroke-width="0.6" opacity="0.7"/></g></g></g>
<g transform="translate(486.5,648.0)"><clipPath id="t40"><rect x="0" y="0" width="62.7" height="61.2"/></clipPath><g clip-path="url(#t40)"><defs><linearGradient id="g37" x1="0" y1="0" x2="1" y2="0"><stop offset="0" stop-color="#b4b0b0"/><stop offset="1" stop-color="#aca8a8"/></linearGradient></defs><rect x="-1" y="-1" width="64.0" height="63.2" fill="url(#g37)"/><defs><radialGradient id="s38" cx="0.5" cy="0.45" r="0.62"><stop offset="0" stop-color="#dca484"/><stop offset="0.55" stop-color="#c88868"/><stop offset="1" stop-color="#9a6448"/></radialGradient></defs><defs><linearGradient id="h39" x1="0" y1="0" x2="0" y2="1"><stop offset="0" stop-color="#2a201a" stop-opacity="0.85"/><stop offset="0.5" stop-color="#2a201a"/><stop offset="1" stop-color="#2a201a"/></linearGradient></defs><g filter="url(#bl1)"><path d="M17.1,66 Q7.8,64 8.1,57 C7.6,17.3 13.2,5.1 29.4,5.1 C45.7,5.1 51.3,17.3 50.8,57 Q51.099999999999994,64 41.8,66 Z" fill="url(#h39)"/><ellipse cx="13.5" cy="40" rx="2.8" ry="5.5" fill="#c88868"/><path d="M15.2,32.5 C15.2,19.0 47.2,19.0 47.2,32.5 C47.5,44.2 43,59.6 31.2,60.6 C21,59.6 14.899999999999999,44.2 15.2,32.5 Z" fill="url(#s38)"/></g><g filter="url(#bl07)"><path d="M20.0,35.4 Q24.05,33.8 28.1,35.199999999999996 M34.3,35.199999999999996 Q37.9,33.8 41.5,35.4" stroke="#6a4a3a" stroke-width="1.4" fill="none" opacity="0.55"/><ellipse cx="24.05" cy="38.4" rx="3.5500000000000007" ry="1.2" fill="#3a2a24"/><ellipse cx="37.9" cy="38.4" rx="3.1000000000000014" ry="1.2" fill="#3a2a24"/><ellipse cx="29.599999999999998" cy="45.05" rx="1.3" ry="5.2" fill="#9a6a58" opacity="0.22"/><ellipse cx="31.7" cy="48.1" rx="3" ry="1.1" fill="#9a6a58" opacity="0.45"/><ellipse cx="30.75" cy="53.95" rx="4.850000000000001" ry="2.25" fill="#b07068"/><line x1="26.4" y1="53.95" x2="35.1" y2="53.95" stroke="#6a3a34" stroke-width="0.6" opacity="0.7"/></g></g></g>
<g transform="translate(570.4,648.0)"><clipPath id="t44"><rect x="0" y="0" width="62.7" height="61.2"/></clipPath><g clip-path="url(#t44)"><defs><linearGradient id="g41" x1="0" y1="0" x2="1" y2="0"><stop offset="0" stop-color="#eef0f6"/><stop offset="1" stop-color="#f6f6f6"/></linearGradient></defs><rect x="-1" y="-1" width="64.0" height="63.2" fill="url(#g41)"/><defs><radialGradient id="s42" cx="0.5" cy="0.45" r="0.62"><stop offset="0" stop-color="#e0b898"/><stop offset="0.55" stop-color="#d0a080"/><stop offset="1" stop-color="#a87858"/></radialGradient></defs><defs><linearGradient id="h43" x1="0" y1="0" x2="0" y2="1"><stop offset="0" stop-color="#5a4a3a" stop-opacity="0.85"/><stop offset="0.5" stop-color="#5a4a3a"/><stop offset="1" stop-color="#5a4a3a"/></linearGradient></defs><g filter="url(#bl1)"><path d="M22,35 Q16.7,33 17,26 C16.5,14.3 21.4,9.1 35.4,9.1 C49.4,9.1 54.3,15.7 53.8,33 Q54.099999999999994,40 48.8,42 Z" fill="url(#h43)"/><path d="M18.7,32.5 C18.7,19.0 49,19.0 49,32.5 C49.3,44.2 44,59.6 33.9,60.6 C22,59.6 18.4,44.2 18.7,32.5 Z" fill="url(#s42)"/></g><g filter="url(#bl07)"><path d="M20.4,34.5 Q24.45,32.9 28.5,34.3 M34.7,34.3 Q38.3,32.9 41.9,34.5" stroke="#6a4a3a" stroke-width="1.4" fill="none" opacity="0.55"/><ellipse cx="24.45" cy="37.5" rx="3.5500000000000007" ry="1.2" fill="#3a2a24"/><ellipse cx="38.3" cy="37.5" rx="3.099999999999998" ry="1.2" fill="#3a2a24"/><ellipse cx="30.0" cy="44.6" rx="1.3" ry="5.6" fill="#9a6a58" opacity="0.22"/><ellipse cx="32.1" cy="48.1" rx="3" ry="1.1" fill="#9a6a58" opacity="0.45"/><ellipse cx="30.3" cy="53.45" rx="4.900000000000002" ry="1.75" fill="#b07068"/><line x1="25.9" y1="53.45" x2="34.7" y2="53.45" stroke="#6a3a34" stroke-width="0.6" opacity="0.7"/></g></g></g>
<g transform="translate(632.4,648.0)"><clipPath id="t48"><rect x="0" y="0" width="62.7" height="61.2"/></clipPath><g clip-path="url(#t48)"><defs><linearGradient id="g45" x1="0" y1="0" x2="1" y2="0"><stop offset="0" stop-color="#c6c4c4"/><stop offset="1" stop-color="#d0cece"/></linearGradient></defs><rect x="-1" y="-1" width="64.0" height="63.2" fill="url(#g45)"/><defs><radialGradient id="s46" cx="0.5" cy="0.45" r="0.62"><stop offset="0" stop-color="#d4b09c"/><stop offset="0.55" stop-color="#c09880"/><stop offset="1" stop-color="#9a7060"/></radialGradient></defs><defs><linearGradient id="h47" x1="0" y1="0" x2="0" y2="1"><stop offset="0" stop-color="#2a1e1a" stop-opacity="0.85"/><stop offset="0.5" stop-color="#2a1e1a"/><stop offset="1" stop-color="#2a1e1a"/></linearGradient></defs><g filter="url(#bl1)"><path d="M18.1,44 Q9.799999999999999,42 10.1,35 C9.6,12.5 15.8,4.6 33.6,4.6 C51.5,4.6 57.7,16.9 57.2,57 Q57.5,64 49.2,66 Z" fill="url(#h47)"/><path d="M16.7,32.5 C16.7,19.0 47.4,19.0 47.4,32.5 C47.699999999999996,44.2 43,59.6 32.0,60.6 C21,59.6 16.4,44.2 16.7,32.5 Z" fill="url(#s46)"/></g><g filter="url(#bl07)"><path d="M20.2,34.5 Q24.25,32.9 28.3,34.3 M34.5,34.3 Q38.55,32.9 42.6,34.5" stroke="#6a4a3a" stroke-width="1.4" fill="none" opacity="0.55"/><ellipse cx="24.25" cy="37.5" rx="3.5500000000000007" ry="1.2" fill="#3a2a24"/><ellipse cx="38.55" cy="37.5" rx="3.5500000000000007" ry="1.2" fill="#3a2a24"/><ellipse cx="29.799999999999997" cy="44.6" rx="1.3" ry="5.6" fill="#9a6a58" opacity="0.22"/><ellipse cx="31.9" cy="48.1" rx="3" ry="1.1" fill="#9a6a58" opacity="0.45"/><ellipse cx="30.95" cy="53.95" rx="4.849999999999998" ry="2.25" fill="#b07068"/><line x1="26.6" y1="53.95" x2="35.3" y2="53.95" stroke="#6a3a34" stroke-width="0.6" opacity="0.7"/></g></g></g>
<text x="200.2" y="744.8" text-anchor="middle" class="lg" letter-spacing="0.3">200k</text>
<text x="343.2" y="744.8" text-anchor="middle" class="lg" letter-spacing="0.3">519k</text>
<text x="488.6" y="744.8" text-anchor="middle" class="lg" letter-spacing="0.3">520k</text>
<text x="630.9" y="744.8" text-anchor="middle" class="lg" letter-spacing="0.6">3000k</text>
</svg>
</body></html>
